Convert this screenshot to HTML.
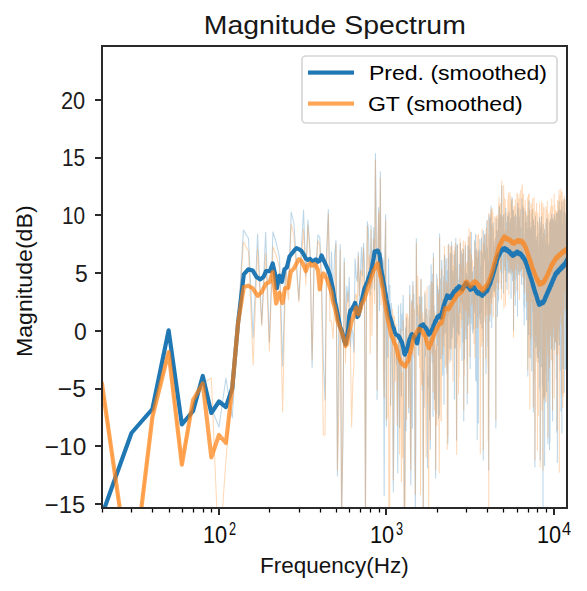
<!DOCTYPE html>
<html><head><meta charset="utf-8"><title>Magnitude Spectrum</title>
<style>html,body{margin:0;padding:0;background:#fff;overflow:hidden}svg{display:block}text{font-family:"Liberation Sans",sans-serif}</style></head>
<body><svg width="587" height="591" viewBox="0 0 587 591"><rect x="0" y="0" width="587" height="591" fill="#fff"/>
<defs><clipPath id="ax"><rect x="102" y="46" width="465" height="462"/></clipPath></defs>
<g clip-path="url(#ax)" fill="none" stroke-linejoin="round">
<path d="M102.00,515.00 L131.47,433.00 L152.39,409.00 L168.61,330.30 L181.86,424.50 L193.07,411.00 L202.77,376.00 L211.33,408.00 L218.99,427.00 L225.92,378.00 L232.25,418.00 L238.07,323.00 L243.45,230.00 L248.47,238.60 L253.16,338.00 L257.57,234.00 L261.72,324.00 L265.65,232.60 L269.38,342.00 L272.93,232.00 L276.31,243.00 L279.54,257.60 L282.63,366.00 L285.60,265.00 L288.45,290.00 L291.20,212.00 L293.84,223.00 L296.39,260.00 L298.85,300.00 L301.24,250.00 L303.55,210.00 L305.78,276.00 L307.95,220.00 L310.06,250.00 L312.11,367.50 L314.10,260.00 L316.04,266.00 L317.93,235.00 L319.77,237.00 L321.56,280.00 L323.31,359.00 L325.02,400.00 L326.69,248.59 L328.33,209.40 L329.93,294.43 L331.49,251.69 L333.02,301.45 L334.52,256.26 L335.99,240.40 L337.43,476.00 L338.84,317.37 L340.22,244.50 L341.58,520.00 L342.92,443.11 L344.23,258.10 L345.51,332.66 L346.78,285.97 L348.02,301.90 L349.24,277.22 L350.44,346.51 L351.62,327.70 L352.79,333.49 L353.93,352.11 L355.06,258.72 L356.17,276.44 L357.26,281.52 L358.34,252.00 L359.40,302.97 L360.45,272.60 L361.48,247.30 L362.49,275.72 L363.50,243.30 L364.49,263.91 L365.46,520.00 L366.42,297.73 L367.37,221.80 L368.31,228.55 L369.24,259.01 L370.15,295.07 L371.06,225.40 L371.95,288.36 L372.83,260.23 L373.70,227.81 L374.56,289.66 L375.41,153.40 L376.25,220.99 L377.08,399.50 L377.90,269.74 L378.71,207.50 L379.52,310.62 L380.31,171.70 L381.10,287.37 L381.88,266.04 L382.64,257.48 L383.41,263.28 L384.16,495.54 L384.91,251.63 L385.64,214.70 L386.37,426.00 L387.10,302.40 L387.81,357.17 L388.52,258.82 L389.22,308.64 L389.92,285.39 L390.61,405.36 L391.29,303.35 L391.97,320.51 L392.64,383.72 L393.30,492.00 L393.96,431.77 L394.61,325.37 L395.26,326.65 L395.90,342.42 L396.53,364.51 L397.16,359.14 L397.79,472.88 L398.41,305.73 L399.02,357.45 L399.63,427.38 L400.23,322.84 L400.83,303.57 L401.42,396.19 L402.01,314.00 L402.59,330.64 L403.17,295.18 L403.75,339.64 L404.32,515.00 L404.88,479.67 L405.45,327.69 L406.00,430.48 L406.56,317.77 L407.10,351.31 L407.65,350.61 L408.19,339.22 L408.73,412.76 L409.26,331.06 L409.79,285.36 L410.31,405.27 L410.83,485.00 L411.35,383.75 L411.86,300.04 L412.37,428.18 L412.88,281.22 L413.38,304.72 L413.88,294.16 L414.38,361.62 L414.87,464.17 L415.36,508.67 L415.85,438.72 L416.33,238.50 L416.81,332.32 L417.29,305.28 L417.76,315.95 L418.23,353.44 L418.70,355.71 L419.16,325.87 L419.62,296.00 L420.08,303.96 L420.54,323.20 L420.99,279.00 L421.44,328.14 L421.89,297.36 L422.33,390.83 L422.78,338.34 L423.22,520.00 L423.65,371.84 L424.09,407.37 L424.52,360.56 L424.95,293.59 L425.37,356.33 L425.80,318.23 L426.22,308.80 L426.64,314.51 L427.05,317.21 L427.47,468.02 L427.88,376.19 L428.29,387.21 L428.70,374.64 L429.10,285.47 L429.50,419.76 L429.90,317.56 L430.30,449.00 L430.70,319.00 L431.09,264.72 L431.48,284.88 L431.87,342.78 L432.26,362.56 L432.65,274.16 L433.03,416.28 L433.41,253.30 L433.79,349.94 L434.17,306.06 L434.55,399.37 L434.92,355.07 L435.29,350.05 L435.66,478.00 L436.03,366.31 L436.40,413.08 L436.76,274.17 L437.12,345.41 L437.48,285.53 L437.84,288.89 L438.20,335.19 L438.55,418.28 L438.91,289.79 L439.26,415.16 L439.61,233.70 L439.96,324.68 L440.31,279.03 L440.65,358.62 L441.00,358.85 L441.34,283.37 L441.68,260.32 L442.02,269.39 L442.35,317.43 L442.69,375.15 L443.02,322.31 L443.36,343.79 L443.69,276.28 L444.02,404.60 L444.35,258.43 L444.67,254.73 L445.00,261.38 L445.32,332.97 L445.64,291.63 L445.97,286.38 L446.28,258.83 L446.60,316.00 L446.92,373.62 L447.23,270.74 L447.55,345.32 L447.86,444.00 L448.17,258.10 L448.48,316.02 L448.79,244.05 L449.10,288.40 L449.41,289.28 L449.71,309.41 L450.01,348.67 L450.32,253.64 L450.62,260.46 L450.92,360.22 L451.21,326.99 L451.51,241.85 L451.81,255.86 L452.10,338.08 L452.40,316.96 L452.69,270.93 L452.98,327.94 L453.27,321.58 L453.56,275.12 L453.85,299.56 L454.13,254.67 L454.42,398.93 L454.70,255.34 L454.99,268.37 L455.27,247.37 L455.55,347.91 L455.83,238.22 L456.11,265.88 L456.39,270.97 L456.67,440.00 L456.94,319.63 L457.22,244.52 L457.49,244.54 L457.76,280.34 L458.03,332.28 L458.31,279.70 L458.58,334.58 L458.84,292.88 L459.11,335.11 L459.38,264.26 L459.64,276.44 L459.91,267.85 L460.17,312.51 L460.44,243.08 L460.70,266.95 L460.96,301.95 L461.22,251.10 L461.48,254.76 L461.74,256.95 L461.99,360.52 L462.25,254.00 L462.51,276.19 L462.76,303.30 L463.01,341.94 L463.27,265.31 L463.52,249.21 L463.77,420.90 L464.02,292.11 L464.27,341.68 L464.52,358.50 L464.77,331.84 L465.01,270.08 L465.26,245.45 L465.50,255.06 L465.75,302.02 L465.99,338.78 L466.23,311.17 L466.48,273.45 L466.72,310.85 L466.96,296.90 L467.20,403.92 L467.44,276.73 L467.67,308.92 L467.91,245.76 L468.15,262.16 L468.38,324.97 L468.62,297.06 L468.85,317.53 L469.09,236.68 L469.32,255.81 L469.55,259.61 L469.78,323.32 L470.01,249.28 L470.24,368.56 L470.47,262.85 L470.70,263.44 L470.93,323.39 L471.15,312.19 L471.38,232.39 L471.60,314.35 L471.83,278.05 L472.05,314.88 L472.28,329.82 L472.50,271.91 L472.72,333.28 L472.94,293.19 L473.16,327.63 L473.38,329.24 L473.60,298.40 L473.82,266.79 L474.04,283.13 L474.26,312.87 L474.47,307.20 L474.69,240.57 L474.90,269.34 L475.12,272.22 L475.33,299.74 L475.55,234.35 L475.76,380.50 L475.97,316.19 L476.18,301.41 L476.39,249.00 L476.60,337.27 L476.81,382.20 L477.02,259.58 L477.23,439.56 L477.44,257.97 L477.65,269.46 L477.85,269.87 L478.06,251.87 L478.27,423.03 L478.47,254.99 L478.68,297.10 L478.88,318.68 L479.08,250.01 L479.29,307.73 L479.49,314.95 L479.69,270.99 L479.89,239.43 L480.09,305.68 L480.29,323.54 L480.49,306.18 L480.69,266.28 L480.89,310.38 L481.09,312.65 L481.28,294.87 L481.48,237.94 L481.68,252.74 L481.87,327.92 L482.07,253.39 L482.26,254.42 L482.45,295.36 L482.65,302.81 L482.84,263.68 L483.03,298.57 L483.23,460.00 L483.42,230.69 L483.61,261.66 L483.80,245.47 L483.99,244.82 L484.18,259.46 L484.37,257.93 L484.56,250.59 L484.74,235.48 L484.93,247.76 L485.12,233.73 L485.31,238.09 L485.49,323.90 L485.68,252.40 L485.86,348.70 L486.05,373.69 L486.23,245.69 L486.42,305.07 L486.60,238.29 L486.78,220.66 L486.96,260.88 L487.15,246.45 L487.33,256.80 L487.51,248.50 L487.69,300.58 L487.87,324.65 L488.05,346.39 L488.23,303.55 L488.41,260.71 L488.59,414.75 L488.76,470.00 L488.94,214.76 L489.12,302.73 L489.30,287.32 L489.47,236.55 L489.65,238.56 L489.82,217.76 L490.00,321.02 L490.17,297.03 L490.35,298.20 L490.52,298.43 L490.69,218.51 L490.87,231.62 L491.04,206.10 L491.21,219.53 L491.38,253.19 L491.55,226.03 L491.72,327.54 L491.89,285.58 L492.06,294.96 L492.23,296.95 L492.40,280.37 L492.57,284.37 L492.74,278.74 L492.91,224.75 L493.08,237.53 L493.24,222.56 L493.41,240.67 L493.58,283.48 L493.74,290.77 L493.91,241.01 L494.07,245.30 L494.24,276.37 L494.40,291.58 L494.57,272.37 L494.73,277.94 L494.90,247.21 L495.06,279.24 L495.22,289.25 L495.38,268.43 L495.55,238.24 L495.71,265.32 L495.87,428.00 L496.03,269.75 L496.19,218.75 L496.35,241.87 L496.51,267.27 L496.67,282.18 L496.83,270.24 L496.99,242.47 L497.15,261.30 L497.31,230.51 L497.46,316.58 L497.62,260.55 L497.78,302.92 L497.94,287.35 L498.09,246.86 L498.25,263.47 L498.40,219.55 L498.56,300.44 L498.71,220.99 L498.87,250.42 L499.02,206.23 L499.18,237.94 L499.33,231.29 L499.49,207.38 L499.64,229.76 L499.79,256.44 L499.94,215.80 L500.10,224.01 L500.25,260.90 L500.40,214.58 L500.55,263.00 L500.70,271.78 L500.85,259.82 L501.00,267.04 L501.15,217.18 L501.30,288.60 L501.45,250.63 L501.60,217.65 L501.75,186.00 L501.90,253.16 L502.05,262.53 L502.19,259.49 L502.34,216.57 L502.49,251.56 L502.64,239.42 L502.78,273.55 L502.93,266.76 L503.08,236.56 L503.22,236.81 L503.37,293.01 L503.51,220.98 L503.66,214.86 L503.80,253.26 L503.95,263.54 L504.09,258.39 L504.23,266.37 L504.38,263.41 L504.52,266.70 L504.66,266.61 L504.81,231.87 L504.95,270.19 L505.09,269.38 L505.23,213.05 L505.37,252.19 L505.52,263.68 L505.66,269.59 L505.80,207.95 L505.94,281.84 L506.08,227.62 L506.22,270.91 L506.36,265.74 L506.50,255.83 L506.64,259.68 L506.78,222.88 L506.91,238.72 L507.05,289.56 L507.19,254.18 L507.33,239.36 L507.47,216.60 L507.60,273.22 L507.74,272.89 L507.88,229.69 L508.01,273.04 L508.15,267.19 L508.29,242.89 L508.42,215.14 L508.56,233.94 L508.69,225.97 L508.83,271.20 L508.96,215.94 L509.10,211.77 L509.23,254.13 L509.36,233.26 L509.50,258.31 L509.63,272.21 L509.76,255.79 L509.90,223.20 L510.03,258.88 L510.16,272.99 L510.30,257.39 L510.43,254.70 L510.56,272.99 L510.69,218.53 L510.82,260.64 L510.95,241.80 L511.08,298.16 L511.21,229.69 L511.35,262.06 L511.48,271.24 L511.61,199.71 L511.74,223.41 L511.86,263.24 L511.99,272.78 L512.12,197.54 L512.25,223.65 L512.38,261.95 L512.51,280.05 L512.64,281.00 L512.76,226.62 L512.89,259.11 L513.02,267.24 L513.15,246.98 L513.27,210.62 L513.40,265.06 L513.53,330.00 L513.65,261.55 L513.78,279.94 L513.91,266.71 L514.03,246.82 L514.16,275.57 L514.28,216.67 L514.41,269.76 L514.53,275.99 L514.66,260.05 L514.78,263.35 L514.90,293.25 L515.03,227.93 L515.15,245.32 L515.28,305.16 L515.40,214.50 L515.52,255.21 L515.64,279.65 L515.77,268.52 L515.89,238.83 L516.01,276.81 L516.13,253.43 L516.26,267.43 L516.38,269.71 L516.50,256.34 L516.62,237.83 L516.74,217.24 L516.86,254.88 L516.98,247.33 L517.10,220.65 L517.22,258.57 L517.34,207.22 L517.46,316.23 L517.58,290.57 L517.70,202.97 L517.82,203.88 L517.94,211.80 L518.06,273.78 L518.18,266.16 L518.30,253.50 L518.42,208.55 L518.53,271.26 L518.65,260.12 L518.77,260.86 L518.89,273.20 L519.00,217.10 L519.12,274.81 L519.24,260.25 L519.36,264.51 L519.47,240.59 L519.59,235.24 L519.70,231.77 L519.82,247.42 L519.94,222.27 L520.05,241.23 L520.17,209.30 L520.28,271.18 L520.40,261.18 L520.51,232.92 L520.63,267.50 L520.74,227.55 L520.86,232.64 L520.97,274.96 L521.08,257.07 L521.20,261.71 L521.31,270.26 L521.43,281.10 L521.54,284.48 L521.65,284.40 L521.76,258.45 L521.88,198.48 L521.99,256.74 L522.10,211.74 L522.22,217.00 L522.33,205.47 L522.44,268.36 L522.55,250.77 L522.66,249.93 L522.77,263.99 L522.89,233.60 L523.00,259.17 L523.11,210.13 L523.22,268.49 L523.33,207.76 L523.44,225.12 L523.55,274.81 L523.66,304.28 L523.77,210.42 L523.88,276.15 L523.99,312.31 L524.10,273.96 L524.21,325.04 L524.32,267.54 L524.42,277.38 L524.53,269.03 L524.64,297.07 L524.75,290.51 L524.86,307.27 L524.97,283.40 L525.07,234.56 L525.18,261.33 L525.29,223.10 L525.40,270.61 L525.50,272.55 L525.61,242.56 L525.72,210.97 L525.83,271.64 L525.93,222.09 L526.04,274.03 L526.15,231.90 L526.25,278.96 L526.36,241.10 L526.46,243.16 L526.57,319.71 L526.67,253.58 L526.78,291.35 L526.89,246.82 L526.99,222.12 L527.10,247.29 L527.20,215.92 L527.31,270.50 L527.41,304.18 L527.51,269.55 L527.62,228.72 L527.72,334.77 L527.83,376.00 L527.93,281.04 L528.03,245.80 L528.14,286.90 L528.24,277.95 L528.34,278.16 L528.45,276.07 L528.55,272.70 L528.65,214.93 L528.75,334.42 L528.86,202.57 L528.96,246.44 L529.06,200.81 L529.16,234.57 L529.27,244.61 L529.37,207.21 L529.47,302.99 L529.57,298.37 L529.67,240.67 L529.77,222.02 L529.87,320.67 L529.97,231.36 L530.08,313.28 L530.18,294.15 L530.28,357.90 L530.38,289.37 L530.48,250.25 L530.58,344.78 L530.68,311.46 L530.78,316.76 L530.88,239.64 L530.98,229.08 L531.08,227.30 L531.17,299.98 L531.27,279.26 L531.37,284.06 L531.47,336.92 L531.57,292.68 L531.67,280.84 L531.77,371.04 L531.87,214.00 L531.96,287.41 L532.06,300.81 L532.16,309.80 L532.26,209.39 L532.36,225.80 L532.45,312.12 L532.55,296.77 L532.65,217.90 L532.74,245.86 L532.84,308.39 L532.94,284.99 L533.03,301.05 L533.13,293.44 L533.23,289.04 L533.32,411.97 L533.42,321.33 L533.52,220.25 L533.61,258.72 L533.71,244.48 L533.80,341.57 L533.90,335.25 L534.00,301.74 L534.09,294.38 L534.19,225.42 L534.28,326.44 L534.38,337.60 L534.47,242.99 L534.57,240.76 L534.66,242.73 L534.75,259.24 L534.85,295.31 L534.94,467.00 L535.04,242.09 L535.13,252.84 L535.22,252.68 L535.32,306.40 L535.41,216.58 L535.51,267.19 L535.60,322.86 L535.69,242.70 L535.79,325.52 L535.88,347.38 L535.97,297.13 L536.06,260.26 L536.16,240.54 L536.25,335.15 L536.34,304.79 L536.43,326.85 L536.53,250.76 L536.62,345.59 L536.71,311.30 L536.80,236.85 L536.89,339.48 L536.99,259.61 L537.08,267.45 L537.17,259.14 L537.26,353.78 L537.35,355.28 L537.44,341.99 L537.53,313.36 L537.62,357.52 L537.71,247.34 L537.80,221.89 L537.90,314.09 L537.99,311.13 L538.08,241.75 L538.17,339.92 L538.26,345.54 L538.35,313.36 L538.44,260.19 L538.53,337.66 L538.62,332.97 L538.70,361.97 L538.79,251.71 L538.88,346.42 L538.97,338.15 L539.06,306.66 L539.15,264.43 L539.24,262.88 L539.33,233.58 L539.42,386.71 L539.50,309.38 L539.59,229.20 L539.68,217.48 L539.77,389.67 L539.86,220.91 L539.95,232.28 L540.03,335.95 L540.12,328.27 L540.21,460.00 L540.30,331.38 L540.38,239.05 L540.47,231.01 L540.56,227.73 L540.65,252.50 L540.73,305.28 L540.82,232.51 L540.91,261.54 L540.99,313.93 L541.08,278.44 L541.17,366.79 L541.25,253.42 L541.34,253.05 L541.42,233.75 L541.51,216.40 L541.60,346.13 L541.68,275.90 L541.77,333.04 L541.85,319.56 L541.94,331.10 L542.03,238.14 L542.11,315.11 L542.20,355.10 L542.28,319.47 L542.37,385.24 L542.45,249.04 L542.54,245.47 L542.62,335.40 L542.71,361.40 L542.79,388.13 L542.87,227.51 L542.96,520.00 L543.04,308.94 L543.13,224.29 L543.21,303.98 L543.30,251.00 L543.38,310.20 L543.46,344.14 L543.55,279.90 L543.63,378.46 L543.71,389.21 L543.80,366.68 L543.88,397.81 L543.96,235.71 L544.05,268.60 L544.13,272.34 L544.21,233.26 L544.30,239.29 L544.38,382.96 L544.46,354.02 L544.54,229.56 L544.63,465.54 L544.71,300.19 L544.79,312.68 L544.87,319.43 L544.96,258.76 L545.04,403.04 L545.12,271.99 L545.20,318.90 L545.28,243.72 L545.36,372.95 L545.45,270.17 L545.53,277.81 L545.61,327.13 L545.69,331.96 L545.77,309.34 L545.85,346.26 L545.93,223.07 L546.01,259.38 L546.09,300.44 L546.18,297.51 L546.26,270.21 L546.34,333.99 L546.42,219.87 L546.50,241.03 L546.58,391.84 L546.66,276.57 L546.74,349.08 L546.82,303.51 L546.90,218.32 L546.98,296.18 L547.06,344.34 L547.14,306.76 L547.22,218.31 L547.30,226.26 L547.38,230.58 L547.45,327.32 L547.53,245.25 L547.61,231.66 L547.69,261.81 L547.77,262.07 L547.85,400.30 L547.93,443.89 L548.01,343.00 L548.09,363.92 L548.16,243.13 L548.24,380.88 L548.32,274.09 L548.40,294.50 L548.48,303.81 L548.56,262.05 L548.63,264.88 L548.71,381.23 L548.79,330.95 L548.87,333.56 L548.95,316.03 L549.02,245.66 L549.10,307.62 L549.18,316.64 L549.26,271.27 L549.33,307.92 L549.41,318.15 L549.49,449.64 L549.56,325.66 L549.64,223.14 L549.72,226.81 L549.80,365.65 L549.87,332.15 L549.95,442.24 L550.02,221.39 L550.10,246.14 L550.18,245.81 L550.25,252.61 L550.33,249.56 L550.41,230.90 L550.48,336.22 L550.56,241.64 L550.63,219.22 L550.71,310.47 L550.79,240.46 L550.86,244.32 L550.94,289.79 L551.01,245.46 L551.09,253.43 L551.16,249.93 L551.24,339.98 L551.31,302.72 L551.39,348.77 L551.46,250.59 L551.54,260.52 L551.61,236.12 L551.69,214.46 L551.76,259.94 L551.84,233.23 L551.91,261.63 L551.99,310.30 L552.06,248.02 L552.14,348.87 L552.21,336.10 L552.29,255.95 L552.36,360.78 L552.43,218.52 L552.51,231.59 L552.58,421.00 L552.65,221.91 L552.73,219.07 L552.80,365.12 L552.88,303.86 L552.95,319.79 L553.02,223.64 L553.10,293.35 L553.17,301.49 L553.24,268.09 L553.32,237.76 L553.39,336.85 L553.46,225.63 L553.54,254.90 L553.61,331.41 L553.68,325.17 L553.75,257.57 L553.83,294.59 L553.90,221.20 L553.97,323.71 L554.04,283.29 L554.12,214.19 L554.19,216.50 L554.26,338.23 L554.33,349.38 L554.40,262.58 L554.48,279.44 L554.55,339.86 L554.62,281.77 L554.69,217.44 L554.76,217.28 L554.84,279.53 L554.91,283.74 L554.98,227.29 L555.05,342.26 L555.12,225.49 L555.19,225.76 L555.26,288.39 L555.34,320.81 L555.41,226.95 L555.48,340.79 L555.55,254.51 L555.62,295.37 L555.69,221.07 L555.76,225.48 L555.83,238.42 L555.90,250.84 L555.97,261.89 L556.04,235.74 L556.11,343.41 L556.18,280.02 L556.25,310.86 L556.32,378.63 L556.39,213.62 L556.46,322.91 L556.53,247.81 L556.60,310.49 L556.67,432.27 L556.74,253.25 L556.81,284.26 L556.88,238.66 L556.95,256.87 L557.02,292.39 L557.09,241.07 L557.16,238.21 L557.23,226.26 L557.30,420.00 L557.37,462.45 L557.44,241.51 L557.51,290.64 L557.58,213.59 L557.65,227.70 L557.71,257.11 L557.78,238.49 L557.85,227.76 L557.92,345.37 L557.99,334.07 L558.06,326.71 L558.13,318.79 L558.19,221.36 L558.26,211.31 L558.33,297.86 L558.40,302.41 L558.47,294.81 L558.54,331.05 L558.60,256.61 L558.67,321.96 L558.74,222.89 L558.81,301.98 L558.88,303.09 L558.94,280.22 L559.01,201.07 L559.08,276.27 L559.15,227.18 L559.21,259.20 L559.28,339.10 L559.35,229.82 L559.42,209.30 L559.48,344.64 L559.55,261.79 L559.62,285.64 L559.68,257.52 L559.75,305.25 L559.82,255.41 L559.88,211.55 L559.95,211.65 L560.02,337.48 L560.08,271.29 L560.15,324.88 L560.22,276.79 L560.28,370.25 L560.35,354.00 L560.42,305.09 L560.48,226.32 L560.55,227.02 L560.62,246.42 L560.68,236.96 L560.75,251.02 L560.81,209.95 L560.88,222.87 L560.95,330.59 L561.01,410.92 L561.08,238.07 L561.14,225.50 L561.21,294.48 L561.27,237.46 L561.34,293.24 L561.41,229.10 L561.47,209.95 L561.54,254.45 L561.60,237.02 L561.67,231.46 L561.73,249.08 L561.80,201.48 L561.86,432.89 L561.93,215.35 L561.99,289.15 L562.06,340.29 L562.12,207.11 L562.19,213.95 L562.25,300.68 L562.32,296.77 L562.38,279.18 L562.44,252.00 L562.51,297.11 L562.57,327.70 L562.64,224.48 L562.70,338.17 L562.77,328.61 L562.83,270.23 L562.89,307.87 L562.96,236.49 L563.02,238.29 L563.09,368.47 L563.15,255.88 L563.21,343.65 L563.28,286.01 L563.34,309.89 L563.41,237.63 L563.47,291.34 L563.53,220.94 L563.60,212.12 L563.66,288.16 L563.72,267.59 L563.79,215.45 L563.85,241.08 L563.91,267.19 L563.98,225.23 L564.04,245.10 L564.10,231.85 L564.17,199.02 L564.23,392.26 L564.29,244.15 L564.35,203.18 L564.42,256.26 L564.48,227.44 L564.54,304.39 L564.61,274.73 L564.67,313.38 L564.73,271.58 L564.79,218.59 L564.86,312.81 L564.92,275.95 L564.98,297.84 L565.04,227.81 L565.10,213.51 L565.17,247.33 L565.23,265.82 L565.29,248.13 L565.35,217.78 L565.41,283.49 L565.48,280.07 L565.54,369.34 L565.60,291.17 L565.66,313.38 L565.72,327.19 L565.79,225.96 L565.85,257.56 L565.91,349.31 L565.97,321.21 L566.03,318.74 L566.09,333.96 L566.15,235.93 L566.22,268.44 L566.28,225.32 L566.34,265.70 L566.40,255.99 L566.46,362.09 L566.52,223.75 L566.58,257.34 L566.64,340.88 L566.70,286.16 L566.76,281.48 L566.82,277.42 L566.89,294.36 L566.95,274.91 L567.01,276.35" stroke="#1f77b4" stroke-opacity="0.3" stroke-width="1.04"/>
<path d="M102.00,384.00 L131.47,590.00 L152.39,417.00 L168.61,352.00 L181.86,464.60 L193.07,400.00 L202.77,383.50 L211.33,378.00 L218.99,560.00 L225.92,460.00 L232.25,384.00 L238.07,323.00 L243.45,242.00 L248.47,251.50 L253.16,365.00 L257.57,249.00 L261.72,326.00 L265.65,253.00 L269.38,351.00 L272.93,247.00 L276.31,255.50 L279.54,268.00 L282.63,412.00 L285.60,270.00 L288.45,300.00 L291.20,224.00 L293.84,235.00 L296.39,270.00 L298.85,302.00 L301.24,260.00 L303.55,229.00 L305.78,285.00 L307.95,225.00 L310.06,255.00 L312.11,360.00 L314.10,265.00 L316.04,270.00 L317.93,241.00 L319.77,245.00 L321.56,290.00 L323.31,435.00 L325.02,435.00 L326.69,263.66 L328.33,214.00 L329.93,321.33 L331.49,320.85 L333.02,338.60 L334.52,307.91 L335.99,244.00 L337.43,470.00 L338.84,409.40 L340.22,250.00 L341.58,520.00 L342.92,424.09 L344.23,262.00 L345.51,363.08 L346.78,308.80 L348.02,292.26 L349.24,321.47 L350.44,350.53 L351.62,427.08 L352.79,382.68 L353.93,365.09 L355.06,296.36 L356.17,293.88 L357.26,307.70 L358.34,256.00 L359.40,295.37 L360.45,272.15 L361.48,270.21 L362.49,300.56 L363.50,248.00 L364.49,300.60 L365.46,520.00 L366.42,307.37 L367.37,226.00 L368.31,273.23 L369.24,255.08 L370.15,353.81 L371.06,230.00 L371.95,335.49 L372.83,282.11 L373.70,239.06 L374.56,303.77 L375.41,160.00 L376.25,280.07 L377.08,390.00 L377.90,239.00 L378.71,212.00 L379.52,277.74 L380.31,178.00 L381.10,304.66 L381.88,260.29 L382.64,260.03 L383.41,366.64 L384.16,397.78 L384.91,273.85 L385.64,220.00 L386.37,420.00 L387.10,416.84 L387.81,415.74 L388.52,305.98 L389.22,700.00 L389.92,429.23 L390.61,397.58 L391.29,352.07 L391.97,351.07 L392.64,308.79 L393.30,480.00 L393.96,316.08 L394.61,316.75 L395.26,380.92 L395.90,324.09 L396.53,364.30 L397.16,425.35 L397.79,372.80 L398.41,334.05 L399.02,351.05 L399.63,454.28 L400.23,328.88 L400.83,349.58 L401.42,481.73 L402.01,373.09 L402.59,457.81 L403.17,320.25 L403.75,469.43 L404.32,520.00 L404.88,565.58 L405.45,373.68 L406.00,313.77 L406.56,419.60 L407.10,313.56 L407.65,316.68 L408.19,319.23 L408.73,407.15 L409.26,339.34 L409.79,295.01 L410.31,445.55 L410.83,470.00 L411.35,302.35 L411.86,306.70 L412.37,353.41 L412.88,285.37 L413.38,310.45 L413.88,356.72 L414.38,309.61 L414.87,363.48 L415.36,494.52 L415.85,367.05 L416.33,243.00 L416.81,287.34 L417.29,315.13 L417.76,276.25 L418.23,330.78 L418.70,297.61 L419.16,315.77 L419.62,367.29 L420.08,305.07 L420.54,494.51 L420.99,279.56 L421.44,339.79 L421.89,384.63 L422.33,328.20 L422.78,312.65 L423.22,515.00 L423.65,414.60 L424.09,318.91 L424.52,342.26 L424.95,291.01 L425.37,318.89 L425.80,413.44 L426.22,457.04 L426.64,357.16 L427.05,287.30 L427.47,376.95 L427.88,400.80 L428.29,408.62 L428.70,519.15 L429.10,309.99 L429.50,371.37 L429.90,389.70 L430.30,440.00 L430.70,293.99 L431.09,281.48 L431.48,312.88 L431.87,353.51 L432.26,324.34 L432.65,282.79 L433.03,392.12 L433.41,258.00 L433.79,310.38 L434.17,361.40 L434.55,409.76 L434.92,311.67 L435.29,342.71 L435.66,470.00 L436.03,343.96 L436.40,348.85 L436.76,425.00 L437.12,394.30 L437.48,278.99 L437.84,303.34 L438.20,300.06 L438.55,293.86 L438.91,424.42 L439.26,472.50 L439.61,238.00 L439.96,348.24 L440.31,363.54 L440.65,398.87 L441.00,420.41 L441.34,421.05 L441.68,269.80 L442.02,330.36 L442.35,354.48 L442.69,299.12 L443.02,335.84 L443.36,329.09 L443.69,281.45 L444.02,346.64 L444.35,246.33 L444.67,282.23 L445.00,299.10 L445.32,367.33 L445.64,327.10 L445.97,365.04 L446.28,281.21 L446.60,294.27 L446.92,284.55 L447.23,449.10 L447.55,312.61 L447.86,436.00 L448.17,244.89 L448.48,358.63 L448.79,246.39 L449.10,325.08 L449.41,333.80 L449.71,362.63 L450.01,325.83 L450.32,307.33 L450.62,246.80 L450.92,309.36 L451.21,348.59 L451.51,249.83 L451.81,245.63 L452.10,276.79 L452.40,254.00 L452.69,344.81 L452.98,381.01 L453.27,266.29 L453.56,319.71 L453.85,323.81 L454.13,250.65 L454.42,347.71 L454.70,278.84 L454.99,299.68 L455.27,243.33 L455.55,282.47 L455.83,268.24 L456.11,370.54 L456.39,415.73 L456.67,454.60 L456.94,317.56 L457.22,245.41 L457.49,246.36 L457.76,336.08 L458.03,343.87 L458.31,313.79 L458.58,393.89 L458.84,316.71 L459.11,376.67 L459.38,307.31 L459.64,350.09 L459.91,238.89 L460.17,346.58 L460.44,243.57 L460.70,263.18 L460.96,327.08 L461.22,280.45 L461.48,282.74 L461.74,265.77 L461.99,319.81 L462.25,248.67 L462.51,290.81 L462.76,250.88 L463.01,306.44 L463.27,240.86 L463.52,260.12 L463.77,410.00 L464.02,269.32 L464.27,375.99 L464.52,307.74 L464.77,330.47 L465.01,276.02 L465.26,241.86 L465.50,261.33 L465.75,270.13 L465.99,311.00 L466.23,304.24 L466.48,288.57 L466.72,263.35 L466.96,283.53 L467.20,364.05 L467.44,262.01 L467.67,393.28 L467.91,275.08 L468.15,237.22 L468.38,291.97 L468.62,315.59 L468.85,269.85 L469.09,229.11 L469.32,251.06 L469.55,246.31 L469.78,356.44 L470.01,258.54 L470.24,269.17 L470.47,231.96 L470.70,286.25 L470.93,266.20 L471.15,261.75 L471.38,254.60 L471.60,273.40 L471.83,304.90 L472.05,291.83 L472.28,261.52 L472.50,260.29 L472.72,291.17 L472.94,283.63 L473.16,298.36 L473.38,317.36 L473.60,332.03 L473.82,286.16 L474.04,343.38 L474.26,332.14 L474.47,289.42 L474.69,242.38 L474.90,357.13 L475.12,279.46 L475.33,254.25 L475.55,251.00 L475.76,327.68 L475.97,283.63 L476.18,263.52 L476.39,257.33 L476.60,271.61 L476.81,271.95 L477.02,235.37 L477.23,316.50 L477.44,252.14 L477.65,264.96 L477.85,327.66 L478.06,271.09 L478.27,246.14 L478.47,234.25 L478.68,241.69 L478.88,293.03 L479.08,255.01 L479.29,299.39 L479.49,294.03 L479.69,314.57 L479.89,358.67 L480.09,311.24 L480.29,453.91 L480.49,353.12 L480.69,251.12 L480.89,299.14 L481.09,302.28 L481.28,316.62 L481.48,346.27 L481.68,247.10 L481.87,341.78 L482.07,229.34 L482.26,341.30 L482.45,251.73 L482.65,269.85 L482.84,261.87 L483.03,319.79 L483.23,450.00 L483.42,243.30 L483.61,322.68 L483.80,313.80 L483.99,257.14 L484.18,315.81 L484.37,255.40 L484.56,234.86 L484.74,294.06 L484.93,256.69 L485.12,320.71 L485.31,287.59 L485.49,251.80 L485.68,358.14 L485.86,293.08 L486.05,298.29 L486.23,227.91 L486.42,253.44 L486.60,240.15 L486.78,294.49 L486.96,314.82 L487.15,285.21 L487.33,306.24 L487.51,220.28 L487.69,250.56 L487.87,366.26 L488.05,234.62 L488.23,441.28 L488.41,295.64 L488.59,300.28 L488.76,520.00 L488.94,213.35 L489.12,315.76 L489.30,238.11 L489.47,246.13 L489.65,310.22 L489.82,252.88 L490.00,305.09 L490.17,314.67 L490.35,243.86 L490.52,213.85 L490.69,312.63 L490.87,233.25 L491.04,209.45 L491.21,215.30 L491.38,247.64 L491.55,245.44 L491.72,303.04 L491.89,223.06 L492.06,296.94 L492.23,208.62 L492.40,247.75 L492.57,285.64 L492.74,232.30 L492.91,212.23 L493.08,269.79 L493.24,316.68 L493.41,228.90 L493.58,269.20 L493.74,282.41 L493.91,237.37 L494.07,276.22 L494.24,291.52 L494.40,296.63 L494.57,277.06 L494.73,217.77 L494.90,216.95 L495.06,296.70 L495.22,274.11 L495.38,271.99 L495.55,290.90 L495.71,274.19 L495.87,420.00 L496.03,233.42 L496.19,216.14 L496.35,216.03 L496.51,287.93 L496.67,231.39 L496.83,262.99 L496.99,282.34 L497.15,267.21 L497.31,259.68 L497.46,281.56 L497.62,215.21 L497.78,258.91 L497.94,265.82 L498.09,251.53 L498.25,239.88 L498.40,220.52 L498.56,289.66 L498.71,203.03 L498.87,230.81 L499.02,197.14 L499.18,272.80 L499.33,282.96 L499.49,206.45 L499.64,224.68 L499.79,246.87 L499.94,204.72 L500.10,248.58 L500.25,269.55 L500.40,203.56 L500.55,261.40 L500.70,231.80 L500.85,243.58 L501.00,254.75 L501.15,244.17 L501.30,235.60 L501.45,299.35 L501.60,207.62 L501.75,181.00 L501.90,247.45 L502.05,247.06 L502.19,235.43 L502.34,218.09 L502.49,241.07 L502.64,235.88 L502.78,245.17 L502.93,250.78 L503.08,239.68 L503.22,214.71 L503.37,252.03 L503.51,214.35 L503.66,185.64 L503.80,197.67 L503.95,308.01 L504.09,225.58 L504.23,230.46 L504.38,249.51 L504.52,198.33 L504.66,242.93 L504.81,251.38 L504.95,231.18 L505.09,199.60 L505.23,245.02 L505.37,254.99 L505.52,305.76 L505.66,261.55 L505.80,232.05 L505.94,251.56 L506.08,230.88 L506.22,233.37 L506.36,238.36 L506.50,232.28 L506.64,250.10 L506.78,244.04 L506.91,239.11 L507.05,212.86 L507.19,257.02 L507.33,240.91 L507.47,240.98 L507.60,260.69 L507.74,243.09 L507.88,199.47 L508.01,229.85 L508.15,242.59 L508.29,201.84 L508.42,193.31 L508.56,218.14 L508.69,244.79 L508.83,294.45 L508.96,241.43 L509.10,263.11 L509.23,264.78 L509.36,204.04 L509.50,265.77 L509.63,248.96 L509.76,215.96 L509.90,192.45 L510.03,220.67 L510.16,208.88 L510.30,269.11 L510.43,203.87 L510.56,229.30 L510.69,196.26 L510.82,265.30 L510.95,251.11 L511.08,274.84 L511.21,222.73 L511.35,269.45 L511.48,223.67 L511.61,202.80 L511.74,231.25 L511.86,267.16 L511.99,255.50 L512.12,206.51 L512.25,199.35 L512.38,225.59 L512.51,271.75 L512.64,257.40 L512.76,244.65 L512.89,262.01 L513.02,256.80 L513.15,209.78 L513.27,263.68 L513.40,228.39 L513.53,337.00 L513.65,285.52 L513.78,279.70 L513.91,268.67 L514.03,205.96 L514.16,295.63 L514.28,206.21 L514.41,213.76 L514.53,245.44 L514.66,244.23 L514.78,269.01 L514.90,242.57 L515.03,254.98 L515.15,250.31 L515.28,215.66 L515.40,199.75 L515.52,211.09 L515.64,224.65 L515.77,260.85 L515.89,252.40 L516.01,268.87 L516.13,265.91 L516.26,243.54 L516.38,274.69 L516.50,246.97 L516.62,233.80 L516.74,225.52 L516.86,290.76 L516.98,193.35 L517.10,249.91 L517.22,244.02 L517.34,237.53 L517.46,252.09 L517.58,244.02 L517.70,194.18 L517.82,201.42 L517.94,229.90 L518.06,263.45 L518.18,251.15 L518.30,230.97 L518.42,204.37 L518.53,230.44 L518.65,210.20 L518.77,270.67 L518.89,222.54 L519.00,198.49 L519.12,257.58 L519.24,244.96 L519.36,247.10 L519.47,299.79 L519.59,239.08 L519.70,200.99 L519.82,241.74 L519.94,194.34 L520.05,230.61 L520.17,204.93 L520.28,271.04 L520.40,190.50 L520.51,257.77 L520.63,242.39 L520.74,238.30 L520.86,249.14 L520.97,250.19 L521.08,249.04 L521.20,247.56 L521.31,252.49 L521.43,263.36 L521.54,269.28 L521.65,248.73 L521.76,251.63 L521.88,187.05 L521.99,259.44 L522.10,197.57 L522.22,229.23 L522.33,184.63 L522.44,249.80 L522.55,277.00 L522.66,215.58 L522.77,245.17 L522.89,242.92 L523.00,194.55 L523.11,273.43 L523.22,250.42 L523.33,215.00 L523.44,194.35 L523.55,252.04 L523.66,276.34 L523.77,203.39 L523.88,259.81 L523.99,285.05 L524.10,207.81 L524.21,226.16 L524.32,246.35 L524.42,274.46 L524.53,261.51 L524.64,283.24 L524.75,292.44 L524.86,263.54 L524.97,238.86 L525.07,222.18 L525.18,231.78 L525.29,200.12 L525.40,248.34 L525.50,253.11 L525.61,251.17 L525.72,225.14 L525.83,240.16 L525.93,252.74 L526.04,252.16 L526.15,213.94 L526.25,232.23 L526.36,253.56 L526.46,259.78 L526.57,301.25 L526.67,261.39 L526.78,278.41 L526.89,274.97 L526.99,222.14 L527.10,273.88 L527.20,227.43 L527.31,256.46 L527.41,257.16 L527.51,218.69 L527.62,197.52 L527.72,261.47 L527.83,370.00 L527.93,265.84 L528.03,288.18 L528.14,235.00 L528.24,269.09 L528.34,262.71 L528.45,194.81 L528.55,212.39 L528.65,199.24 L528.75,241.07 L528.86,197.44 L528.96,357.15 L529.06,193.89 L529.16,281.73 L529.27,260.22 L529.37,219.45 L529.47,229.70 L529.57,293.09 L529.67,277.94 L529.77,275.68 L529.87,409.33 L529.97,210.83 L530.08,319.00 L530.18,300.10 L530.28,328.97 L530.38,273.99 L530.48,268.22 L530.58,297.11 L530.68,338.73 L530.78,295.40 L530.88,244.71 L530.98,203.77 L531.08,206.64 L531.17,229.27 L531.27,214.41 L531.37,274.56 L531.47,301.80 L531.57,239.51 L531.67,275.05 L531.77,247.67 L531.87,212.62 L531.96,290.35 L532.06,298.11 L532.16,222.82 L532.26,202.43 L532.36,203.00 L532.45,305.48 L532.55,232.22 L532.65,198.82 L532.74,290.83 L532.84,303.93 L532.94,335.96 L533.03,245.44 L533.13,223.38 L533.23,272.18 L533.32,406.73 L533.42,211.06 L533.52,208.86 L533.61,228.22 L533.71,211.73 L533.80,316.89 L533.90,315.41 L534.00,326.66 L534.09,218.79 L534.19,197.42 L534.28,278.63 L534.38,233.57 L534.47,213.29 L534.57,378.47 L534.66,227.31 L534.75,238.22 L534.85,222.24 L534.94,460.00 L535.04,278.53 L535.13,286.03 L535.22,430.20 L535.32,299.79 L535.41,211.89 L535.51,234.48 L535.60,335.20 L535.69,288.45 L535.79,317.05 L535.88,224.00 L535.97,300.31 L536.06,306.56 L536.16,291.40 L536.25,229.45 L536.34,282.11 L536.43,304.68 L536.53,203.35 L536.62,229.79 L536.71,361.51 L536.80,240.13 L536.89,325.28 L536.99,283.37 L537.08,279.84 L537.17,286.64 L537.26,315.79 L537.35,308.77 L537.44,450.35 L537.53,235.46 L537.62,318.82 L537.71,212.98 L537.80,245.96 L537.90,290.92 L537.99,224.04 L538.08,225.94 L538.17,312.43 L538.26,365.47 L538.35,415.76 L538.44,302.78 L538.53,308.86 L538.62,231.72 L538.70,317.13 L538.79,350.81 L538.88,285.25 L538.97,304.26 L539.06,301.54 L539.15,286.75 L539.24,230.88 L539.33,218.22 L539.42,342.68 L539.50,322.93 L539.59,308.32 L539.68,203.70 L539.77,330.38 L539.86,240.01 L539.95,239.80 L540.03,365.66 L540.12,252.32 L540.21,467.00 L540.30,260.93 L540.38,353.67 L540.47,293.40 L540.56,259.75 L540.65,255.99 L540.73,289.36 L540.82,222.65 L540.91,229.32 L540.99,247.36 L541.08,288.92 L541.17,295.02 L541.25,303.38 L541.34,261.29 L541.42,248.52 L541.51,201.64 L541.60,308.03 L541.68,218.96 L541.77,321.61 L541.85,287.10 L541.94,409.96 L542.03,241.65 L542.11,290.42 L542.20,262.25 L542.28,301.98 L542.37,336.48 L542.45,255.10 L542.54,213.13 L542.62,263.36 L542.71,232.06 L542.79,375.63 L542.87,203.85 L542.96,470.00 L543.04,322.82 L543.13,231.26 L543.21,212.47 L543.30,212.32 L543.38,257.03 L543.46,328.14 L543.55,303.77 L543.63,332.02 L543.71,355.46 L543.80,400.57 L543.88,218.43 L543.96,207.72 L544.05,252.23 L544.13,299.27 L544.21,227.99 L544.30,282.47 L544.38,257.90 L544.46,236.65 L544.54,287.64 L544.63,294.24 L544.71,397.24 L544.79,257.59 L544.87,341.79 L544.96,326.74 L545.04,394.78 L545.12,257.62 L545.20,331.57 L545.28,234.63 L545.36,331.54 L545.45,259.89 L545.53,311.84 L545.61,257.26 L545.69,306.94 L545.77,259.25 L545.85,291.43 L545.93,206.68 L546.01,284.22 L546.09,398.67 L546.18,401.75 L546.26,241.30 L546.34,304.96 L546.42,217.30 L546.50,231.93 L546.58,324.30 L546.66,240.41 L546.74,329.13 L546.82,283.24 L546.90,209.84 L546.98,246.90 L547.06,254.62 L547.14,311.25 L547.22,201.16 L547.30,220.47 L547.38,208.86 L547.45,311.41 L547.53,291.28 L547.61,355.32 L547.69,216.33 L547.77,283.50 L547.85,296.94 L547.93,218.31 L548.01,299.73 L548.09,437.45 L548.16,325.99 L548.24,342.99 L548.32,214.07 L548.40,333.69 L548.48,343.03 L548.56,300.47 L548.63,306.22 L548.71,220.00 L548.79,301.78 L548.87,256.35 L548.95,273.88 L549.02,288.39 L549.10,254.93 L549.18,222.39 L549.26,289.52 L549.33,244.10 L549.41,367.50 L549.49,315.57 L549.56,232.74 L549.64,234.85 L549.72,223.22 L549.80,234.80 L549.87,322.52 L549.95,298.31 L550.02,211.50 L550.10,335.70 L550.18,218.26 L550.25,288.61 L550.33,288.64 L550.41,234.63 L550.48,233.42 L550.56,284.01 L550.63,308.16 L550.71,274.49 L550.79,205.90 L550.86,329.87 L550.94,230.72 L551.01,224.31 L551.09,208.56 L551.16,218.09 L551.24,249.52 L551.31,359.74 L551.39,336.88 L551.46,242.17 L551.54,250.20 L551.61,246.91 L551.69,199.08 L551.76,269.40 L551.84,246.82 L551.91,254.94 L551.99,279.77 L552.06,244.63 L552.14,343.46 L552.21,321.54 L552.29,225.73 L552.36,394.34 L552.43,228.46 L552.51,205.97 L552.58,410.00 L552.65,229.69 L552.73,216.26 L552.80,309.14 L552.88,273.42 L552.95,279.56 L553.02,220.52 L553.10,326.80 L553.17,278.17 L553.24,273.70 L553.32,225.65 L553.39,272.08 L553.46,232.65 L553.54,324.49 L553.61,304.80 L553.68,238.01 L553.75,223.34 L553.83,268.11 L553.90,225.91 L553.97,233.25 L554.04,231.03 L554.12,194.38 L554.19,224.97 L554.26,398.30 L554.33,281.00 L554.40,231.89 L554.48,214.80 L554.55,268.56 L554.62,221.05 L554.69,204.51 L554.76,237.88 L554.84,219.09 L554.91,325.11 L554.98,301.34 L555.05,242.94 L555.12,247.12 L555.19,335.92 L555.26,272.42 L555.34,341.16 L555.41,223.97 L555.48,284.72 L555.55,210.55 L555.62,274.68 L555.69,214.15 L555.76,250.32 L555.83,285.55 L555.90,305.96 L555.97,263.82 L556.04,260.81 L556.11,325.93 L556.18,287.59 L556.25,347.52 L556.32,313.35 L556.39,211.54 L556.46,354.06 L556.53,260.07 L556.60,281.52 L556.67,308.78 L556.74,272.57 L556.81,232.72 L556.88,315.56 L556.95,221.41 L557.02,279.18 L557.09,272.69 L557.16,386.42 L557.23,347.11 L557.30,430.00 L557.37,314.61 L557.44,201.60 L557.51,272.12 L557.58,200.38 L557.65,211.81 L557.71,227.20 L557.78,228.41 L557.85,295.04 L557.92,287.03 L557.99,354.87 L558.06,215.28 L558.13,296.98 L558.19,264.18 L558.26,245.22 L558.33,294.39 L558.40,282.72 L558.47,266.48 L558.54,263.05 L558.60,312.64 L558.67,329.10 L558.74,204.60 L558.81,257.32 L558.88,232.13 L558.94,257.54 L559.01,189.94 L559.08,256.25 L559.15,202.68 L559.21,287.18 L559.28,472.25 L559.35,222.61 L559.42,222.84 L559.48,318.71 L559.55,300.28 L559.62,246.35 L559.68,232.33 L559.75,302.39 L559.82,268.75 L559.88,195.88 L559.95,216.33 L560.02,313.92 L560.08,282.39 L560.15,242.78 L560.22,241.20 L560.28,218.21 L560.35,282.85 L560.42,287.73 L560.48,237.56 L560.55,207.46 L560.62,287.82 L560.68,243.07 L560.75,268.37 L560.81,189.14 L560.88,189.92 L560.95,230.92 L561.01,322.00 L561.08,268.47 L561.14,269.21 L561.21,324.26 L561.27,265.57 L561.34,217.04 L561.41,244.48 L561.47,201.72 L561.54,217.61 L561.60,197.22 L561.67,218.00 L561.73,238.86 L561.80,192.44 L561.86,393.86 L561.93,306.96 L561.99,262.19 L562.06,205.58 L562.12,191.94 L562.19,195.87 L562.25,265.34 L562.32,258.08 L562.38,260.91 L562.44,294.39 L562.51,245.12 L562.57,265.21 L562.64,247.08 L562.70,261.06 L562.77,407.49 L562.83,209.36 L562.89,220.81 L562.96,240.61 L563.02,272.72 L563.09,315.26 L563.15,282.76 L563.21,201.14 L563.28,282.52 L563.34,338.40 L563.41,208.48 L563.47,199.93 L563.53,395.91 L563.60,274.87 L563.66,254.75 L563.72,312.87 L563.79,201.49 L563.85,304.77 L563.91,307.54 L563.98,221.27 L564.04,211.52 L564.10,247.32 L564.17,206.45 L564.23,275.44 L564.29,274.28 L564.35,196.28 L564.42,259.94 L564.48,209.82 L564.54,270.73 L564.61,265.73 L564.67,264.83 L564.73,213.60 L564.79,212.25 L564.86,270.60 L564.92,270.52 L564.98,291.57 L565.04,227.93 L565.10,199.63 L565.17,272.72 L565.23,212.77 L565.29,221.49 L565.35,255.10 L565.41,259.93 L565.48,309.44 L565.54,225.12 L565.60,231.32 L565.66,284.54 L565.72,223.36 L565.79,256.90 L565.85,232.83 L565.91,299.73 L565.97,233.76 L566.03,262.24 L566.09,248.85 L566.15,233.05 L566.22,226.81 L566.28,330.55 L566.34,311.54 L566.40,203.66 L566.46,250.98 L566.52,199.56 L566.58,296.99 L566.64,269.57 L566.70,268.53 L566.76,249.50 L566.82,295.68 L566.89,318.04 L566.95,292.05 L567.01,356.55" stroke="#ff7f0e" stroke-opacity="0.3" stroke-width="1.04"/>
<path d="M102.00,515.00 L131.47,433.00 L152.39,409.00 L168.61,330.30 L181.86,424.50 L193.07,411.00 L202.77,376.00 L211.33,413.00 L218.99,401.50 L225.92,407.00 L232.25,388.00 L238.07,323.00 L243.80,274.30 L248.20,269.30 L252.70,270.50 L256.50,276.90 L260.30,279.40 L263.50,276.90 L266.00,271.20 L269.80,271.20 L272.70,263.50 L274.90,273.10 L276.80,288.30 L279.30,275.60 L281.90,281.90 L284.40,269.30 L286.90,267.30 L289.50,256.60 L293.84,250.96 L296.39,248.04 L298.85,249.13 L301.24,250.78 L303.55,254.11 L305.78,258.66 L307.95,259.81 L310.06,258.93 L312.11,260.92 L314.10,260.57 L316.04,259.36 L317.93,261.81 L319.77,260.66 L321.56,255.36 L323.31,259.46 L325.02,263.20 L326.69,266.78 L328.33,270.36 L329.93,275.26 L331.49,282.46 L333.02,289.04 L334.52,299.46 L335.99,306.15 L337.43,313.20 L338.84,320.01 L340.22,327.12 L341.58,330.33 L342.92,334.95 L344.23,341.08 L345.51,344.30 L346.78,338.10 L348.02,330.17 L349.24,315.92 L350.44,310.22 L351.62,309.82 L352.79,307.42 L353.93,305.58 L355.06,302.81 L356.17,307.65 L357.26,317.06 L358.34,315.67 L359.40,311.82 L360.45,306.27 L361.48,302.09 L362.49,297.01 L363.50,292.54 L364.49,288.14 L365.46,286.36 L366.42,283.74 L367.37,281.87 L368.31,278.44 L369.24,276.38 L370.15,272.95 L371.06,271.12 L371.95,267.17 L372.83,262.17 L373.70,258.13 L374.56,251.46 L375.41,251.93 L376.25,250.89 L377.08,250.58 L377.90,250.62 L378.71,252.87 L379.52,254.08 L380.31,261.57 L381.10,268.50 L381.88,272.98 L382.64,276.57 L383.41,282.24 L384.16,285.24 L384.91,290.41 L385.64,294.05 L386.37,299.35 L387.10,302.89 L387.81,305.68 L388.52,310.68 L389.22,314.49 L389.92,317.05 L390.61,319.06 L391.29,320.88 L391.97,323.53 L392.64,326.67 L393.30,327.75 L393.96,328.83 L394.61,331.83 L395.26,333.11 L395.90,334.51 L396.53,334.69 L397.16,335.29 L397.79,335.50 L398.41,335.66 L399.02,337.69 L399.63,337.50 L400.23,339.02 L400.83,339.98 L401.42,342.11 L402.01,342.14 L402.59,345.14 L403.17,347.06 L403.75,349.75 L404.32,353.77 L404.88,354.51 L405.45,352.95 L406.00,351.99 L406.56,351.49 L407.10,349.42 L407.65,347.62 L408.19,345.32 L408.73,342.28 L409.26,340.15 L409.79,338.45 L410.31,337.94 L410.83,335.82 L411.35,336.47 L411.86,334.05 L412.37,334.87 L412.88,335.74 L413.38,335.29 L413.88,336.56 L414.38,338.03 L414.87,337.39 L415.36,339.61 L415.85,341.02 L416.33,341.61 L416.81,343.09 L417.29,343.28 L417.76,340.23 L418.23,337.43 L418.70,334.02 L419.16,331.27 L419.62,329.32 L420.08,326.69 L420.54,325.91 L420.99,325.44 L421.44,326.31 L421.89,325.05 L422.33,325.66 L422.78,324.48 L423.22,324.40 L423.65,325.70 L424.09,326.04 L424.52,326.36 L424.95,326.69 L425.37,328.11 L425.80,327.87 L426.22,329.40 L426.64,328.78 L427.05,330.34 L427.47,331.41 L427.88,333.09 L428.29,332.73 L428.70,334.62 L429.10,334.25 L429.50,333.83 L429.90,333.18 L430.30,333.31 L430.70,331.67 L431.09,331.31 L431.48,330.47 L431.87,329.72 L432.26,328.98 L432.65,329.17 L433.03,327.97 L433.41,325.59 L433.79,325.42 L434.17,324.15 L434.55,323.31 L434.92,322.39 L435.29,320.91 L435.66,321.43 L436.03,319.88 L436.40,319.52 L436.76,318.89 L437.12,317.43 L437.48,316.57 L437.84,316.56 L438.20,316.55 L438.55,316.55 L438.91,316.52 L439.26,315.52 L439.61,317.08 L439.96,317.00 L440.31,317.25 L440.65,316.73 L441.00,317.55 L441.34,314.66 L441.68,313.29 L442.02,311.94 L442.35,311.03 L442.69,309.71 L443.02,308.28 L443.36,307.66 L443.69,305.41 L444.02,305.27 L444.35,303.48 L444.67,303.37 L445.00,301.16 L445.32,300.66 L445.64,300.77 L445.97,299.04 L446.28,298.52 L446.60,297.24 L446.92,296.15 L447.23,295.33 L447.55,296.28 L447.86,295.57 L448.17,297.19 L448.48,297.72 L448.79,297.78 L449.10,296.58 L449.41,297.35 L449.71,297.56 L450.01,297.43 L450.32,298.08 L450.62,297.90 L450.92,296.55 L451.21,297.05 L451.51,296.45 L451.81,294.77 L452.10,295.44 L452.40,295.18 L452.69,293.47 L452.98,293.68 L453.27,293.33 L453.56,292.81 L453.85,291.42 L454.13,292.05 L454.42,291.71 L454.70,291.76 L454.99,291.44 L455.27,290.29 L455.55,290.72 L455.83,290.69 L456.11,290.45 L456.39,288.85 L456.67,288.33 L456.94,289.17 L457.22,288.11 L457.49,288.45 L457.76,288.86 L458.03,287.57 L458.31,287.06 L458.58,287.15 L458.84,287.24 L459.11,286.17 L459.38,286.88 L459.64,286.64 L459.91,287.80 L460.17,288.31 L460.44,287.70 L460.70,287.90 L460.96,288.40 L461.22,288.02 L461.48,288.28 L461.74,288.63 L461.99,289.06 L462.25,288.47 L462.51,289.30 L462.76,288.60 L463.01,287.72 L463.27,286.94 L463.52,287.80 L463.77,286.28 L464.02,285.91 L464.27,285.53 L464.52,285.07 L464.77,286.18 L465.01,284.67 L465.26,284.36 L465.50,284.94 L465.75,284.19 L465.99,283.05 L466.23,283.79 L466.48,284.91 L466.72,284.30 L466.96,285.22 L467.20,284.42 L467.44,285.87 L467.67,286.27 L467.91,286.66 L468.15,286.70 L468.38,286.45 L468.62,286.21 L468.85,287.33 L469.09,288.06 L469.32,287.34 L469.55,287.78 L469.78,288.56 L470.01,289.24 L470.24,289.81 L470.47,288.57 L470.70,288.50 L470.93,289.43 L471.15,288.97 L471.38,288.93 L471.60,289.25 L471.83,288.97 L472.05,288.63 L472.28,288.33 L472.50,287.47 L472.72,287.74 L472.94,286.75 L473.16,287.61 L473.38,287.43 L473.60,287.20 L473.82,287.05 L474.04,287.28 L474.26,287.70 L474.47,287.35 L474.69,289.15 L474.90,288.95 L475.12,289.02 L475.33,289.65 L475.55,290.30 L475.76,290.03 L475.97,291.17 L476.18,291.67 L476.39,291.05 L476.60,290.94 L476.81,292.38 L477.02,292.91 L477.23,291.50 L477.44,292.63 L477.65,292.95 L477.85,293.23 L478.06,291.91 L478.27,291.96 L478.47,293.69 L478.68,292.23 L478.88,292.45 L479.08,293.28 L479.29,293.15 L479.49,293.81 L479.69,292.91 L479.89,294.33 L480.09,293.18 L480.29,294.28 L480.49,293.13 L480.69,293.97 L480.89,293.28 L481.09,293.90 L481.28,294.00 L481.48,294.84 L481.68,294.47 L481.87,293.86 L482.07,295.66 L482.26,295.57 L482.45,295.72 L482.65,294.40 L482.84,294.47 L483.03,293.97 L483.23,293.60 L483.42,293.24 L483.61,293.90 L483.80,293.02 L483.99,292.93 L484.18,293.97 L484.37,293.10 L484.56,292.37 L484.74,293.06 L484.93,292.15 L485.12,292.43 L485.31,291.80 L485.49,292.04 L485.68,292.05 L485.86,291.70 L486.05,291.26 L486.23,291.79 L486.42,291.76 L486.60,290.32 L486.78,290.06 L486.96,289.76 L487.15,290.91 L487.33,290.44 L487.51,288.75 L487.69,289.68 L487.87,287.91 L488.05,288.04 L488.23,287.63 L488.41,287.98 L488.59,286.00 L488.76,286.10 L488.94,286.22 L489.12,284.86 L489.30,284.77 L489.47,284.79 L489.65,285.14 L489.82,284.54 L490.00,284.27 L490.17,283.76 L490.35,283.22 L490.52,282.92 L490.69,282.05 L490.87,281.59 L491.04,280.25 L491.21,279.45 L491.38,279.95 L491.55,278.33 L491.72,279.14 L491.89,278.00 L492.06,276.97 L492.23,277.51 L492.40,275.56 L492.57,275.66 L492.74,274.35 L492.91,275.38 L493.08,274.13 L493.24,274.00 L493.41,272.52 L493.58,272.91 L493.74,272.20 L493.91,271.55 L494.07,271.55 L494.24,270.03 L494.40,269.41 L494.57,269.33 L494.73,269.00 L494.90,267.52 L495.06,267.54 L495.22,266.13 L495.38,266.17 L495.55,265.99 L495.71,264.15 L495.87,264.77 L496.03,262.91 L496.19,264.04 L496.35,262.59 L496.51,261.91 L496.67,261.91 L496.83,260.99 L496.99,260.80 L497.15,259.07 L497.31,259.37 L497.46,258.80 L497.62,258.91 L497.78,256.75 L497.94,257.15 L498.09,257.16 L498.25,256.71 L498.40,255.54 L498.56,256.17 L498.71,255.20 L498.87,254.84 L499.02,255.77 L499.18,254.24 L499.33,254.40 L499.49,254.63 L499.64,254.25 L499.79,253.67 L499.94,253.82 L500.10,252.91 L500.25,252.89 L500.40,252.95 L500.55,252.39 L500.70,252.03 L500.85,251.31 L501.00,251.29 L501.15,250.70 L501.30,251.03 L501.45,250.15 L501.60,250.22 L501.75,250.65 L501.90,250.11 L502.05,249.72 L502.19,250.52 L502.34,249.63 L502.49,250.37 L502.64,250.18 L502.78,249.48 L502.93,249.87 L503.08,248.57 L503.22,249.12 L503.37,249.88 L503.51,249.29 L503.66,249.16 L503.80,249.27 L503.95,249.21 L504.09,248.95 L504.23,248.57 L504.38,248.06 L504.52,248.17 L504.66,248.17 L504.81,248.52 L504.95,249.64 L505.09,248.58 L505.23,248.85 L505.37,248.81 L505.52,249.29 L505.66,250.05 L505.80,250.04 L505.94,249.22 L506.08,249.12 L506.22,250.33 L506.36,249.73 L506.50,250.17 L506.64,249.17 L506.78,250.69 L506.91,249.79 L507.05,250.22 L507.19,249.78 L507.33,250.28 L507.47,251.11 L507.60,251.21 L507.74,250.66 L507.88,251.29 L508.01,250.83 L508.15,250.77 L508.29,251.18 L508.42,250.65 L508.56,250.96 L508.69,251.75 L508.83,251.96 L508.96,250.78 L509.10,252.12 L509.23,252.40 L509.36,251.87 L509.50,251.31 L509.63,252.56 L509.76,251.91 L509.90,252.76 L510.03,252.41 L510.16,253.01 L510.30,252.46 L510.43,252.99 L510.56,253.20 L510.69,253.53 L510.82,252.89 L510.95,254.39 L511.08,253.30 L511.21,253.47 L511.35,253.51 L511.48,253.30 L511.61,254.07 L511.74,254.82 L511.86,254.84 L511.99,254.05 L512.12,254.07 L512.25,254.53 L512.38,255.46 L512.51,255.09 L512.64,256.00 L512.76,255.65 L512.89,255.55 L513.02,255.73 L513.15,255.61 L513.27,254.79 L513.40,254.55 L513.53,254.79 L513.65,254.79 L513.78,254.08 L513.91,254.53 L514.03,254.80 L514.16,253.81 L514.28,253.73 L514.41,253.71 L514.53,253.82 L514.66,254.95 L514.78,253.18 L514.90,253.38 L515.03,253.26 L515.15,253.73 L515.28,252.82 L515.40,253.53 L515.52,252.92 L515.64,253.03 L515.77,253.88 L515.89,252.70 L516.01,253.40 L516.13,252.93 L516.26,252.87 L516.38,253.51 L516.50,252.24 L516.62,253.53 L516.74,253.39 L516.86,252.90 L516.98,251.71 L517.10,252.73 L517.22,252.53 L517.34,252.82 L517.46,251.88 L517.58,253.28 L517.70,253.23 L517.82,251.92 L517.94,252.35 L518.06,251.91 L518.18,253.42 L518.30,253.64 L518.42,253.84 L518.53,253.23 L518.65,253.40 L518.77,253.49 L518.89,253.37 L519.00,254.13 L519.12,253.58 L519.24,253.16 L519.36,253.55 L519.47,252.72 L519.59,254.06 L519.70,254.08 L519.82,253.66 L519.94,254.50 L520.05,254.40 L520.17,253.71 L520.28,253.31 L520.40,253.48 L520.51,253.64 L520.63,253.93 L520.74,254.25 L520.86,255.18 L520.97,254.08 L521.08,255.33 L521.20,255.09 L521.31,255.56 L521.43,254.90 L521.54,254.34 L521.65,255.90 L521.76,255.08 L521.88,255.05 L521.99,256.38 L522.10,256.33 L522.22,255.63 L522.33,255.89 L522.44,257.25 L522.55,256.19 L522.66,257.12 L522.77,256.24 L522.89,257.63 L523.00,256.52 L523.11,257.39 L523.22,256.68 L523.33,257.75 L523.44,258.44 L523.55,257.22 L523.66,257.71 L523.77,258.74 L523.88,258.61 L523.99,258.22 L524.10,258.94 L524.21,258.78 L524.32,259.66 L524.42,258.78 L524.53,259.77 L524.64,259.69 L524.75,260.03 L524.86,259.52 L524.97,260.40 L525.07,260.68 L525.18,260.44 L525.29,260.11 L525.40,262.11 L525.50,261.98 L525.61,261.38 L525.72,262.65 L525.83,262.15 L525.93,262.81 L526.04,263.83 L526.15,263.41 L526.25,263.44 L526.36,263.78 L526.46,263.69 L526.57,264.26 L526.67,264.66 L526.78,264.80 L526.89,264.91 L526.99,265.95 L527.10,265.81 L527.20,267.07 L527.31,267.71 L527.41,266.85 L527.51,267.70 L527.62,267.89 L527.72,267.42 L527.83,267.82 L527.93,269.50 L528.03,269.07 L528.14,269.97 L528.24,268.95 L528.34,270.21 L528.45,271.00 L528.55,271.32 L528.65,270.09 L528.75,271.34 L528.86,271.38 L528.96,272.40 L529.06,271.49 L529.16,272.15 L529.27,273.46 L529.37,273.16 L529.47,273.44 L529.57,274.69 L529.67,273.84 L529.77,273.65 L529.87,274.60 L529.97,274.48 L530.08,274.67 L530.18,275.86 L530.28,276.87 L530.38,276.51 L530.48,276.94 L530.58,276.67 L530.68,277.43 L530.78,278.07 L530.88,278.09 L530.98,278.78 L531.08,278.64 L531.17,278.32 L531.27,279.32 L531.37,279.46 L531.47,279.18 L531.57,280.31 L531.67,280.97 L531.77,280.08 L531.87,281.16 L531.96,281.84 L532.06,281.59 L532.16,281.69 L532.26,282.21 L532.36,282.86 L532.45,283.46 L532.55,283.57 L532.65,283.09 L532.74,284.71 L532.84,285.24 L532.94,284.10 L533.03,284.70 L533.13,284.90 L533.23,286.45 L533.32,286.90 L533.42,285.68 L533.52,286.53 L533.61,286.61 L533.71,287.44 L533.80,288.59 L533.90,287.39 L534.00,287.91 L534.09,288.81 L534.19,289.21 L534.28,289.94 L534.38,289.71 L534.47,289.51 L534.57,290.22 L534.66,291.68 L534.75,291.60 L534.85,290.78 L534.94,292.36 L535.04,291.77 L535.13,292.90 L535.22,291.80 L535.32,293.63 L535.41,292.64 L535.51,293.45 L535.60,294.10 L535.69,294.11 L535.79,293.77 L535.88,294.01 L535.97,294.55 L536.06,294.41 L536.16,294.99 L536.25,295.11 L536.34,296.00 L536.43,296.08 L536.53,296.77 L536.62,296.50 L536.71,296.33 L536.80,297.15 L536.89,298.19 L536.99,297.57 L537.08,298.11 L537.17,299.02 L537.26,298.67 L537.35,299.81 L537.44,300.14 L537.53,299.32 L537.62,300.36 L537.71,299.77 L537.80,299.84 L537.90,300.65 L537.99,301.22 L538.08,302.09 L538.17,300.94 L538.26,302.23 L538.35,302.08 L538.44,301.73 L538.53,303.52 L538.62,303.29 L538.70,302.54 L538.79,304.21 L538.88,303.03 L538.97,303.28 L539.06,303.77 L539.15,304.82 L539.24,303.16 L539.33,304.71 L539.42,304.13 L539.50,303.11 L539.59,303.97 L539.68,303.74 L539.77,303.89 L539.86,304.16 L539.95,304.02 L540.03,304.56 L540.12,303.01 L540.21,304.15 L540.30,303.39 L540.38,304.03 L540.47,304.18 L540.56,304.33 L540.65,302.98 L540.73,303.28 L540.82,304.13 L540.91,304.10 L540.99,303.03 L541.08,304.01 L541.17,303.02 L541.25,302.92 L541.34,303.57 L541.42,303.02 L541.51,302.95 L541.60,302.80 L541.68,302.85 L541.77,302.28 L541.85,302.10 L541.94,303.32 L542.03,302.94 L542.11,303.10 L542.20,303.29 L542.28,302.23 L542.37,302.20 L542.45,302.24 L542.54,302.25 L542.62,303.04 L542.71,302.31 L542.79,302.18 L542.87,302.71 L542.96,301.86 L543.04,301.68 L543.13,302.71 L543.21,302.78 L543.30,301.92 L543.38,302.50 L543.46,301.38 L543.55,301.92 L543.63,302.04 L543.71,301.26 L543.80,301.24 L543.88,301.52 L543.96,301.29 L544.05,300.31 L544.13,301.11 L544.21,299.79 L544.30,301.20 L544.38,299.63 L544.46,299.53 L544.54,299.24 L544.63,300.48 L544.71,299.02 L544.79,299.40 L544.87,299.90 L544.96,299.64 L545.04,297.82 L545.12,298.49 L545.20,298.44 L545.28,298.44 L545.36,297.59 L545.45,297.38 L545.53,296.61 L545.61,296.48 L545.69,297.22 L545.77,296.18 L545.85,296.22 L545.93,296.27 L546.01,295.61 L546.09,295.35 L546.18,296.77 L546.26,295.70 L546.34,295.10 L546.42,295.82 L546.50,294.38 L546.58,294.61 L546.66,295.72 L546.74,295.42 L546.82,294.76 L546.90,293.60 L546.98,293.82 L547.06,293.11 L547.14,293.27 L547.22,292.74 L547.30,292.74 L547.38,293.46 L547.45,292.32 L547.53,292.24 L547.61,293.40 L547.69,292.19 L547.77,292.01 L547.85,291.38 L547.93,292.47 L548.01,292.08 L548.09,291.66 L548.16,291.61 L548.24,290.49 L548.32,290.60 L548.40,291.00 L548.48,291.48 L548.56,291.06 L548.63,290.56 L548.71,290.16 L548.79,289.07 L548.87,290.47 L548.95,288.81 L549.02,288.74 L549.10,289.57 L549.18,289.61 L549.26,289.38 L549.33,288.60 L549.41,287.93 L549.49,287.49 L549.56,288.78 L549.64,288.83 L549.72,287.33 L549.80,288.27 L549.87,287.26 L549.95,286.92 L550.02,287.09 L550.10,286.02 L550.18,286.63 L550.25,286.01 L550.33,286.76 L550.41,286.20 L550.48,286.69 L550.56,286.56 L550.63,285.34 L550.71,285.10 L550.79,286.11 L550.86,285.15 L550.94,284.24 L551.01,283.98 L551.09,285.50 L551.16,284.59 L551.24,283.47 L551.31,284.11 L551.39,283.93 L551.46,283.63 L551.54,284.38 L551.61,284.21 L551.69,282.55 L551.76,282.42 L551.84,282.71 L551.91,283.30 L551.99,282.75 L552.06,282.77 L552.14,282.31 L552.21,281.48 L552.29,282.40 L552.36,280.78 L552.43,281.84 L552.51,280.76 L552.58,281.08 L552.65,281.82 L552.73,280.86 L552.80,279.82 L552.88,280.32 L552.95,280.56 L553.02,279.30 L553.10,279.48 L553.17,278.89 L553.24,279.66 L553.32,279.20 L553.39,279.25 L553.46,278.71 L553.54,279.18 L553.61,278.14 L553.68,279.29 L553.75,279.22 L553.83,278.21 L553.90,277.99 L553.97,278.53 L554.04,277.33 L554.12,278.09 L554.19,276.99 L554.26,277.60 L554.33,276.73 L554.40,277.05 L554.48,277.46 L554.55,275.73 L554.62,276.91 L554.69,276.27 L554.76,275.81 L554.84,275.59 L554.91,274.91 L554.98,275.09 L555.05,275.57 L555.12,274.46 L555.19,275.32 L555.26,275.68 L555.34,275.55 L555.41,275.22 L555.48,274.90 L555.55,273.67 L555.62,275.01 L555.69,273.55 L555.76,274.67 L555.83,274.61 L555.90,274.07 L555.97,273.81 L556.04,273.15 L556.11,273.65 L556.18,273.16 L556.25,272.78 L556.32,272.71 L556.39,273.84 L556.46,273.98 L556.53,272.50 L556.60,272.19 L556.67,272.56 L556.74,272.25 L556.81,272.27 L556.88,272.90 L556.95,272.54 L557.02,272.47 L557.09,271.99 L557.16,272.74 L557.23,271.99 L557.30,272.11 L557.37,272.14 L557.44,272.86 L557.51,271.60 L557.58,272.37 L557.65,271.56 L557.71,272.53 L557.78,271.56 L557.85,271.68 L557.92,272.27 L557.99,271.83 L558.06,270.71 L558.13,270.71 L558.19,272.17 L558.26,270.36 L558.33,270.78 L558.40,271.89 L558.47,270.11 L558.54,270.30 L558.60,270.32 L558.67,270.01 L558.74,270.63 L558.81,270.77 L558.88,270.20 L558.94,269.75 L559.01,270.94 L559.08,270.85 L559.15,270.34 L559.21,269.50 L559.28,270.15 L559.35,270.23 L559.42,269.79 L559.48,270.50 L559.55,269.58 L559.62,269.72 L559.68,268.93 L559.75,269.66 L559.82,269.95 L559.88,269.82 L559.95,268.89 L560.02,270.14 L560.08,269.57 L560.15,268.96 L560.22,268.87 L560.28,269.46 L560.35,268.29 L560.42,269.06 L560.48,269.12 L560.55,268.69 L560.62,269.26 L560.68,268.46 L560.75,268.39 L560.81,268.00 L560.88,269.07 L560.95,267.92 L561.01,268.54 L561.08,267.96 L561.14,268.84 L561.21,268.80 L561.27,267.08 L561.34,268.75 L561.41,267.98 L561.47,266.96 L561.54,267.66 L561.60,266.79 L561.67,267.62 L561.73,266.90 L561.80,267.17 L561.86,266.99 L561.93,267.46 L561.99,267.79 L562.06,267.93 L562.12,266.77 L562.19,267.14 L562.25,266.06 L562.32,266.65 L562.38,267.65 L562.44,266.07 L562.51,267.36 L562.57,266.90 L562.64,266.19 L562.70,267.00 L562.77,266.05 L562.83,267.08 L562.89,265.55 L562.96,265.56 L563.02,266.63 L563.09,266.02 L563.15,265.41 L563.21,266.01 L563.28,265.56 L563.34,265.95 L563.41,266.23 L563.47,266.37 L563.53,264.87 L563.60,265.77 L563.66,266.41 L563.72,265.40 L563.79,265.90 L563.85,264.63 L563.91,265.96 L563.98,265.37 L564.04,265.86 L564.10,265.61 L564.17,265.70 L564.23,264.17 L564.29,265.30 L564.35,264.30 L564.42,264.36 L564.48,264.40 L564.54,264.82 L564.61,264.82 L564.67,265.31 L564.73,263.59 L564.79,263.86 L564.86,264.10 L564.92,264.85 L564.98,264.31 L565.04,264.14 L565.10,264.47 L565.17,264.16 L565.23,263.39 L565.29,262.90 L565.35,263.46 L565.41,264.10 L565.48,263.47 L565.54,262.37 L565.60,262.95 L565.66,262.73 L565.72,262.97 L565.79,262.86 L565.85,263.40 L565.91,262.18 L565.97,262.19 L566.03,262.45 L566.09,262.82 L566.15,262.38 L566.22,261.84 L566.28,262.34 L566.34,261.63 L566.40,262.38 L566.46,261.04 L566.52,260.64 L566.58,261.79 L566.64,260.71 L566.70,261.59 L566.76,261.04 L566.82,260.75 L566.89,259.87 L566.95,261.02 L567.01,259.61 L567.07,261.16 L567.13,260.93 L567.19,259.83 L567.25,259.45 L567.31,260.74 L567.37,259.94 L567.43,259.24 L567.49,259.84 L567.55,259.32 L567.61,259.54 L567.67,259.89 L567.73,260.32 L567.79,260.05 L567.85,258.83 L567.91,259.33 L567.97,259.29 L568.03,260.11 L568.09,258.42 L568.15,259.12 L568.21,259.78 L568.27,258.78 L568.33,258.47 L568.39,258.93 L568.45,258.44 L568.51,259.46 L568.57,257.88 L568.62,258.03 L568.68,257.74 L568.74,258.81 L568.80,257.99 L568.86,259.01 L568.92,258.93 L568.98,258.94 L569.04,257.65 L569.10,257.12 L569.16,257.75 L569.21,258.72 L569.27,258.30 L569.33,256.96 L569.39,258.06 L569.45,258.38 L569.51,258.40 L569.57,257.88 L569.62,258.08 L569.68,257.97 L569.74,257.04 L569.80,256.51 L569.86,257.57 L569.92,256.44" stroke="#1f77b4" stroke-width="4.17" stroke-linecap="square"/>
<path d="M102.00,384.00 L131.47,590.00 L152.39,417.00 L168.61,352.00 L181.86,464.60 L193.07,400.00 L202.77,383.50 L211.33,457.30 L218.99,435.00 L225.92,443.00 L232.25,388.00 L238.07,323.00 L243.80,287.00 L248.20,285.70 L252.70,288.30 L257.80,295.90 L261.60,292.10 L266.00,283.80 L269.80,281.90 L272.70,271.80 L276.20,303.50 L279.30,292.70 L282.50,303.00 L285.00,288.30 L288.20,287.60 L290.70,271.80 L293.84,268.65 L296.39,263.79 L298.85,259.28 L301.24,260.72 L303.55,265.35 L305.78,271.08 L307.95,265.17 L310.06,263.49 L312.11,265.72 L314.10,264.08 L316.04,265.41 L317.93,270.02 L319.77,289.50 L321.56,277.76 L323.31,273.36 L325.02,276.37 L326.69,278.59 L328.33,283.02 L329.93,287.96 L331.49,292.52 L333.02,302.10 L334.52,306.48 L335.99,312.90 L337.43,320.66 L338.84,324.36 L340.22,328.26 L341.58,332.21 L342.92,335.88 L344.23,339.88 L345.51,346.02 L346.78,344.27 L348.02,337.44 L349.24,331.39 L350.44,326.47 L351.62,320.91 L352.79,318.27 L353.93,314.78 L355.06,310.70 L356.17,307.67 L357.26,309.53 L358.34,314.43 L359.40,311.80 L360.45,309.14 L361.48,304.68 L362.49,302.82 L363.50,300.76 L364.49,298.95 L365.46,295.55 L366.42,292.58 L367.37,289.10 L368.31,286.27 L369.24,283.40 L370.15,280.76 L371.06,278.30 L371.95,274.79 L372.83,272.94 L373.70,269.98 L374.56,268.96 L375.41,266.92 L376.25,265.11 L377.08,264.11 L377.90,263.21 L378.71,267.66 L379.52,271.57 L380.31,275.54 L381.10,278.78 L381.88,283.89 L382.64,287.09 L383.41,291.72 L384.16,297.69 L384.91,301.98 L385.64,306.79 L386.37,311.08 L387.10,314.99 L387.81,318.94 L388.52,322.54 L389.22,326.34 L389.92,328.90 L390.61,331.91 L391.29,335.22 L391.97,337.22 L392.64,338.04 L393.30,339.57 L393.96,341.95 L394.61,343.80 L395.26,344.65 L395.90,345.65 L396.53,348.52 L397.16,350.49 L397.79,353.47 L398.41,356.74 L399.02,357.90 L399.63,359.35 L400.23,360.71 L400.83,362.29 L401.42,362.71 L402.01,363.37 L402.59,364.73 L403.17,364.61 L403.75,364.53 L404.32,366.13 L404.88,365.74 L405.45,366.48 L406.00,364.06 L406.56,362.65 L407.10,362.48 L407.65,361.76 L408.19,361.19 L408.73,359.03 L409.26,355.87 L409.79,354.56 L410.31,352.10 L410.83,349.62 L411.35,348.31 L411.86,345.53 L412.37,343.13 L412.88,340.22 L413.38,337.84 L413.88,336.78 L414.38,335.41 L414.87,335.38 L415.36,335.36 L415.85,333.88 L416.33,332.94 L416.81,332.02 L417.29,331.19 L417.76,330.90 L418.23,329.23 L418.70,329.50 L419.16,328.67 L419.62,329.18 L420.08,329.40 L420.54,329.39 L420.99,330.57 L421.44,331.09 L421.89,330.39 L422.33,330.87 L422.78,331.85 L423.22,333.91 L423.65,333.58 L424.09,335.06 L424.52,334.93 L424.95,336.13 L425.37,336.31 L425.80,338.18 L426.22,339.13 L426.64,341.39 L427.05,342.64 L427.47,344.42 L427.88,344.72 L428.29,346.08 L428.70,348.19 L429.10,347.93 L429.50,346.44 L429.90,344.97 L430.30,344.16 L430.70,344.54 L431.09,342.33 L431.48,341.42 L431.87,340.79 L432.26,339.00 L432.65,337.99 L433.03,338.08 L433.41,336.48 L433.79,334.93 L434.17,335.12 L434.55,332.92 L434.92,332.64 L435.29,331.77 L435.66,329.95 L436.03,329.18 L436.40,329.70 L436.76,327.82 L437.12,327.21 L437.48,327.70 L437.84,326.41 L438.20,326.31 L438.55,325.87 L438.91,325.26 L439.26,323.78 L439.61,324.25 L439.96,323.46 L440.31,322.99 L440.65,323.15 L441.00,323.50 L441.34,323.45 L441.68,321.85 L442.02,320.58 L442.35,319.98 L442.69,318.18 L443.02,317.38 L443.36,315.53 L443.69,315.14 L444.02,313.43 L444.35,311.74 L444.67,309.99 L445.00,310.13 L445.32,308.17 L445.64,308.12 L445.97,307.99 L446.28,309.42 L446.60,309.16 L446.92,307.92 L447.23,307.87 L447.55,308.01 L447.86,308.91 L448.17,308.25 L448.48,309.02 L448.79,309.25 L449.10,308.32 L449.41,307.47 L449.71,307.65 L450.01,306.04 L450.32,306.32 L450.62,304.57 L450.92,304.45 L451.21,304.61 L451.51,304.28 L451.81,303.20 L452.10,302.73 L452.40,302.73 L452.69,302.19 L452.98,301.68 L453.27,301.47 L453.56,299.58 L453.85,299.56 L454.13,299.97 L454.42,299.84 L454.70,299.36 L454.99,298.24 L455.27,298.48 L455.55,297.71 L455.83,296.45 L456.11,297.38 L456.39,296.22 L456.67,295.11 L456.94,295.07 L457.22,294.72 L457.49,294.04 L457.76,295.28 L458.03,294.07 L458.31,294.07 L458.58,293.90 L458.84,294.30 L459.11,293.35 L459.38,292.75 L459.64,292.69 L459.91,292.23 L460.17,292.81 L460.44,292.79 L460.70,291.32 L460.96,290.83 L461.22,292.11 L461.48,291.49 L461.74,291.78 L461.99,290.48 L462.25,289.94 L462.51,290.60 L462.76,288.50 L463.01,289.20 L463.27,288.63 L463.52,288.13 L463.77,286.85 L464.02,285.84 L464.27,284.91 L464.52,285.12 L464.77,285.49 L465.01,283.73 L465.26,283.50 L465.50,282.22 L465.75,282.63 L465.99,282.33 L466.23,281.59 L466.48,282.25 L466.72,282.03 L466.96,282.30 L467.20,282.12 L467.44,283.01 L467.67,284.03 L467.91,284.12 L468.15,284.26 L468.38,283.94 L468.62,284.41 L468.85,284.82 L469.09,284.16 L469.32,285.67 L469.55,284.93 L469.78,285.32 L470.01,285.03 L470.24,285.96 L470.47,286.56 L470.70,285.68 L470.93,285.65 L471.15,285.54 L471.38,285.84 L471.60,285.44 L471.83,284.53 L472.05,283.99 L472.28,284.63 L472.50,283.84 L472.72,284.10 L472.94,282.66 L473.16,282.58 L473.38,283.08 L473.60,282.68 L473.82,281.95 L474.04,281.76 L474.26,281.49 L474.47,282.33 L474.69,281.19 L474.90,281.59 L475.12,282.56 L475.33,281.84 L475.55,282.74 L475.76,282.56 L475.97,283.40 L476.18,283.50 L476.39,282.76 L476.60,282.74 L476.81,282.63 L477.02,283.45 L477.23,283.60 L477.44,284.27 L477.65,284.42 L477.85,284.60 L478.06,284.63 L478.27,284.75 L478.47,284.70 L478.68,284.61 L478.88,285.85 L479.08,286.23 L479.29,285.39 L479.49,285.85 L479.69,286.66 L479.89,286.44 L480.09,287.13 L480.29,288.16 L480.49,287.40 L480.69,288.25 L480.89,288.44 L481.09,288.32 L481.28,288.55 L481.48,289.00 L481.68,288.53 L481.87,289.00 L482.07,290.50 L482.26,289.65 L482.45,290.15 L482.65,290.37 L482.84,290.77 L483.03,290.39 L483.23,289.69 L483.42,289.96 L483.61,288.90 L483.80,289.64 L483.99,288.08 L484.18,288.22 L484.37,288.00 L484.56,288.04 L484.74,287.33 L484.93,288.49 L485.12,287.27 L485.31,287.48 L485.49,286.39 L485.68,286.91 L485.86,286.55 L486.05,285.67 L486.23,286.30 L486.42,286.39 L486.60,286.42 L486.78,286.02 L486.96,285.83 L487.15,285.13 L487.33,284.86 L487.51,283.92 L487.69,283.59 L487.87,282.98 L488.05,283.05 L488.23,282.23 L488.41,282.05 L488.59,282.22 L488.76,281.37 L488.94,280.75 L489.12,280.24 L489.30,280.27 L489.47,279.92 L489.65,279.79 L489.82,278.34 L490.00,278.19 L490.17,278.01 L490.35,277.95 L490.52,277.05 L490.69,276.05 L490.87,276.43 L491.04,274.74 L491.21,274.78 L491.38,275.05 L491.55,274.25 L491.72,273.67 L491.89,271.85 L492.06,270.87 L492.23,270.40 L492.40,271.01 L492.57,270.74 L492.74,270.19 L492.91,268.64 L493.08,268.58 L493.24,268.11 L493.41,266.15 L493.58,266.43 L493.74,266.24 L493.91,264.97 L494.07,264.56 L494.24,263.13 L494.40,262.84 L494.57,262.19 L494.73,262.22 L494.90,262.42 L495.06,261.25 L495.22,260.55 L495.38,259.53 L495.55,258.55 L495.71,258.61 L495.87,258.04 L496.03,257.18 L496.19,256.12 L496.35,257.11 L496.51,255.97 L496.67,255.28 L496.83,254.72 L496.99,254.16 L497.15,253.58 L497.31,253.12 L497.46,251.84 L497.62,251.07 L497.78,251.25 L497.94,251.08 L498.09,249.83 L498.25,249.46 L498.40,248.02 L498.56,248.27 L498.71,247.33 L498.87,247.66 L499.02,246.01 L499.18,245.94 L499.33,246.66 L499.49,245.07 L499.64,245.24 L499.79,245.33 L499.94,244.99 L500.10,244.75 L500.25,245.23 L500.40,243.22 L500.55,244.14 L500.70,243.18 L500.85,242.83 L501.00,242.13 L501.15,242.17 L501.30,243.07 L501.45,242.79 L501.60,242.57 L501.75,241.48 L501.90,240.54 L502.05,240.10 L502.19,240.24 L502.34,240.29 L502.49,240.03 L502.64,240.42 L502.78,239.44 L502.93,239.69 L503.08,238.46 L503.22,239.46 L503.37,239.11 L503.51,237.75 L503.66,238.49 L503.80,237.68 L503.95,236.99 L504.09,236.86 L504.23,237.16 L504.38,236.49 L504.52,237.87 L504.66,237.03 L504.81,238.01 L504.95,236.91 L505.09,237.60 L505.23,237.06 L505.37,237.78 L505.52,238.21 L505.66,237.99 L505.80,237.37 L505.94,238.86 L506.08,238.86 L506.22,239.02 L506.36,238.22 L506.50,238.41 L506.64,237.84 L506.78,237.93 L506.91,238.82 L507.05,239.04 L507.19,238.58 L507.33,239.07 L507.47,239.15 L507.60,238.89 L507.74,238.81 L507.88,239.82 L508.01,238.51 L508.15,238.85 L508.29,239.95 L508.42,239.52 L508.56,239.50 L508.69,239.44 L508.83,239.14 L508.96,239.89 L509.10,239.79 L509.23,239.52 L509.36,239.96 L509.50,240.11 L509.63,240.38 L509.76,239.62 L509.90,239.53 L510.03,239.68 L510.16,240.43 L510.30,240.80 L510.43,241.33 L510.56,240.84 L510.69,241.65 L510.82,241.05 L510.95,240.51 L511.08,240.52 L511.21,241.49 L511.35,241.31 L511.48,240.96 L511.61,241.50 L511.74,242.42 L511.86,242.89 L511.99,241.32 L512.12,241.43 L512.25,241.57 L512.38,242.19 L512.51,242.34 L512.64,242.29 L512.76,243.30 L512.89,242.46 L513.02,242.72 L513.15,242.86 L513.27,243.08 L513.40,242.83 L513.53,243.70 L513.65,243.39 L513.78,243.49 L513.91,243.02 L514.03,242.70 L514.16,242.93 L514.28,243.37 L514.41,243.60 L514.53,243.17 L514.66,242.15 L514.78,242.38 L514.90,242.86 L515.03,243.03 L515.15,241.89 L515.28,241.69 L515.40,241.54 L515.52,242.42 L515.64,241.43 L515.77,242.21 L515.89,241.92 L516.01,242.27 L516.13,241.50 L516.26,241.75 L516.38,242.28 L516.50,240.84 L516.62,241.17 L516.74,241.37 L516.86,241.79 L516.98,240.93 L517.10,240.77 L517.22,241.23 L517.34,240.73 L517.46,240.72 L517.58,241.00 L517.70,240.39 L517.82,240.10 L517.94,240.91 L518.06,241.13 L518.18,240.82 L518.30,240.76 L518.42,241.09 L518.53,240.47 L518.65,240.29 L518.77,240.98 L518.89,240.47 L519.00,240.73 L519.12,240.88 L519.24,240.68 L519.36,241.15 L519.47,241.41 L519.59,240.52 L519.70,241.90 L519.82,241.46 L519.94,242.10 L520.05,241.83 L520.17,241.31 L520.28,241.60 L520.40,241.44 L520.51,240.60 L520.63,242.12 L520.74,240.94 L520.86,241.00 L520.97,240.54 L521.08,241.28 L521.20,240.93 L521.31,241.94 L521.43,241.51 L521.54,241.76 L521.65,241.02 L521.76,241.39 L521.88,241.35 L521.99,240.93 L522.10,241.44 L522.22,241.56 L522.33,241.90 L522.44,241.45 L522.55,241.68 L522.66,242.21 L522.77,242.99 L522.89,242.03 L523.00,243.24 L523.11,243.44 L523.22,242.41 L523.33,243.11 L523.44,242.77 L523.55,243.66 L523.66,244.49 L523.77,244.80 L523.88,243.50 L523.99,243.61 L524.10,245.15 L524.21,243.92 L524.32,245.56 L524.42,244.97 L524.53,245.63 L524.64,246.28 L524.75,245.21 L524.86,246.28 L524.97,246.23 L525.07,246.93 L525.18,246.70 L525.29,247.05 L525.40,247.63 L525.50,246.85 L525.61,247.18 L525.72,246.89 L525.83,248.54 L525.93,248.30 L526.04,249.48 L526.15,248.64 L526.25,249.93 L526.36,249.39 L526.46,250.44 L526.57,249.59 L526.67,249.70 L526.78,250.36 L526.89,251.68 L526.99,252.04 L527.10,251.10 L527.20,251.65 L527.31,252.59 L527.41,252.17 L527.51,253.55 L527.62,253.94 L527.72,253.08 L527.83,253.15 L527.93,254.00 L528.03,254.39 L528.14,254.57 L528.24,255.22 L528.34,256.27 L528.45,255.20 L528.55,256.80 L528.65,256.73 L528.75,256.62 L528.86,256.51 L528.96,256.57 L529.06,256.81 L529.16,256.94 L529.27,257.92 L529.37,258.29 L529.47,258.39 L529.57,259.65 L529.67,259.89 L529.77,258.89 L529.87,260.09 L529.97,259.66 L530.08,259.68 L530.18,261.73 L530.28,260.90 L530.38,261.20 L530.48,261.28 L530.58,262.77 L530.68,261.64 L530.78,262.85 L530.88,263.64 L530.98,263.85 L531.08,263.46 L531.17,264.14 L531.27,263.36 L531.37,265.19 L531.47,263.94 L531.57,265.28 L531.67,265.49 L531.77,264.93 L531.87,265.15 L531.96,265.84 L532.06,266.47 L532.16,267.31 L532.26,267.25 L532.36,268.16 L532.45,268.23 L532.55,268.54 L532.65,267.95 L532.74,269.06 L532.84,269.26 L532.94,269.75 L533.03,269.93 L533.13,269.89 L533.23,269.62 L533.32,269.81 L533.42,270.48 L533.52,270.12 L533.61,271.04 L533.71,270.51 L533.80,270.87 L533.90,272.62 L534.00,271.72 L534.09,272.94 L534.19,273.08 L534.28,272.84 L534.38,273.74 L534.47,273.58 L534.57,272.66 L534.66,273.38 L534.75,274.15 L534.85,273.92 L534.94,274.04 L535.04,274.43 L535.13,274.64 L535.22,275.51 L535.32,275.85 L535.41,275.95 L535.51,276.07 L535.60,276.49 L535.69,275.98 L535.79,277.07 L535.88,276.44 L535.97,277.55 L536.06,277.57 L536.16,277.47 L536.25,276.99 L536.34,278.16 L536.43,277.45 L536.53,277.85 L536.62,278.92 L536.71,278.67 L536.80,278.35 L536.89,279.74 L536.99,278.38 L537.08,279.81 L537.17,280.20 L537.26,279.11 L537.35,280.64 L537.44,279.39 L537.53,279.72 L537.62,280.41 L537.71,281.43 L537.80,280.46 L537.90,280.01 L537.99,281.25 L538.08,280.90 L538.17,282.20 L538.26,281.07 L538.35,282.08 L538.44,281.05 L538.53,282.38 L538.62,281.78 L538.70,283.16 L538.79,282.15 L538.88,282.81 L538.97,283.50 L539.06,282.45 L539.15,283.00 L539.24,284.14 L539.33,284.17 L539.42,284.41 L539.50,284.49 L539.59,284.28 L539.68,283.77 L539.77,284.77 L539.86,283.63 L539.95,284.44 L540.03,284.04 L540.12,283.62 L540.21,282.99 L540.30,282.88 L540.38,283.24 L540.47,284.14 L540.56,283.96 L540.65,282.95 L540.73,283.54 L540.82,283.05 L540.91,282.92 L540.99,283.82 L541.08,283.36 L541.17,283.70 L541.25,283.31 L541.34,284.06 L541.42,282.43 L541.51,283.30 L541.60,282.52 L541.68,282.42 L541.77,283.53 L541.85,282.36 L541.94,283.78 L542.03,282.49 L542.11,282.47 L542.20,283.21 L542.28,282.54 L542.37,283.35 L542.45,282.91 L542.54,283.64 L542.62,283.27 L542.71,282.94 L542.79,282.97 L542.87,283.53 L542.96,282.68 L543.04,283.05 L543.13,283.18 L543.21,282.91 L543.30,282.84 L543.38,282.89 L543.46,282.20 L543.55,281.87 L543.63,282.20 L543.71,282.23 L543.80,281.73 L543.88,282.06 L543.96,282.03 L544.05,282.13 L544.13,281.75 L544.21,282.02 L544.30,281.47 L544.38,280.68 L544.46,280.95 L544.54,279.96 L544.63,280.78 L544.71,281.26 L544.79,280.63 L544.87,279.18 L544.96,280.00 L545.04,279.09 L545.12,280.02 L545.20,278.74 L545.28,279.69 L545.36,278.30 L545.45,279.41 L545.53,279.10 L545.61,279.14 L545.69,279.07 L545.77,278.48 L545.85,278.97 L545.93,278.46 L546.01,277.81 L546.09,277.66 L546.18,277.45 L546.26,277.32 L546.34,277.87 L546.42,276.42 L546.50,276.69 L546.58,277.59 L546.66,276.56 L546.74,277.07 L546.82,275.96 L546.90,276.98 L546.98,275.46 L547.06,276.28 L547.14,275.20 L547.22,275.92 L547.30,275.79 L547.38,274.80 L547.45,274.85 L547.53,274.30 L547.61,274.59 L547.69,274.07 L547.77,273.88 L547.85,273.91 L547.93,273.56 L548.01,274.74 L548.09,274.24 L548.16,272.78 L548.24,272.80 L548.32,274.01 L548.40,273.17 L548.48,272.78 L548.56,271.89 L548.63,271.72 L548.71,272.18 L548.79,271.96 L548.87,271.72 L548.95,270.95 L549.02,271.20 L549.10,271.80 L549.18,271.24 L549.26,270.80 L549.33,271.43 L549.41,270.01 L549.49,270.84 L549.56,269.89 L549.64,270.61 L549.72,269.67 L549.80,269.07 L549.87,269.60 L549.95,268.77 L550.02,269.73 L550.10,269.85 L550.18,268.97 L550.25,269.25 L550.33,268.60 L550.41,269.08 L550.48,267.72 L550.56,267.45 L550.63,267.08 L550.71,267.33 L550.79,267.44 L550.86,267.12 L550.94,266.44 L551.01,267.02 L551.09,266.01 L551.16,266.47 L551.24,267.00 L551.31,266.38 L551.39,266.28 L551.46,265.86 L551.54,265.68 L551.61,264.84 L551.69,264.63 L551.76,265.07 L551.84,265.76 L551.91,265.14 L551.99,265.18 L552.06,265.46 L552.14,265.31 L552.21,264.97 L552.29,264.40 L552.36,263.48 L552.43,263.98 L552.51,263.76 L552.58,264.04 L552.65,264.28 L552.73,264.36 L552.80,264.09 L552.88,263.70 L552.95,263.44 L553.02,263.12 L553.10,262.22 L553.17,262.64 L553.24,262.75 L553.32,262.51 L553.39,263.42 L553.46,262.75 L553.54,263.06 L553.61,262.62 L553.68,262.13 L553.75,262.13 L553.83,261.97 L553.90,261.61 L553.97,261.03 L554.04,260.67 L554.12,260.77 L554.19,260.79 L554.26,261.97 L554.33,260.80 L554.40,260.58 L554.48,260.28 L554.55,261.20 L554.62,260.56 L554.69,260.17 L554.76,260.42 L554.84,259.84 L554.91,260.18 L554.98,260.60 L555.05,259.41 L555.12,260.40 L555.19,259.50 L555.26,258.75 L555.34,258.48 L555.41,258.74 L555.48,258.88 L555.55,259.67 L555.62,258.79 L555.69,259.27 L555.76,258.79 L555.83,258.74 L555.90,257.82 L555.97,258.67 L556.04,259.02 L556.11,258.88 L556.18,258.83 L556.25,258.65 L556.32,257.53 L556.39,258.17 L556.46,258.04 L556.53,258.12 L556.60,257.40 L556.67,257.67 L556.74,257.98 L556.81,257.78 L556.88,257.47 L556.95,257.30 L557.02,256.80 L557.09,256.73 L557.16,258.17 L557.23,257.62 L557.30,256.61 L557.37,257.81 L557.44,257.79 L557.51,257.44 L557.58,256.99 L557.65,257.74 L557.71,256.16 L557.78,257.03 L557.85,256.94 L557.92,256.04 L557.99,256.16 L558.06,255.93 L558.13,256.29 L558.19,256.74 L558.26,255.50 L558.33,255.63 L558.40,256.53 L558.47,256.84 L558.54,256.46 L558.60,256.01 L558.67,256.47 L558.74,255.66 L558.81,256.38 L558.88,255.72 L558.94,256.22 L559.01,256.15 L559.08,255.06 L559.15,254.58 L559.21,255.56 L559.28,255.62 L559.35,255.60 L559.42,254.81 L559.48,254.26 L559.55,255.27 L559.62,255.36 L559.68,254.13 L559.75,254.30 L559.82,254.45 L559.88,254.04 L559.95,254.90 L560.02,255.25 L560.08,255.24 L560.15,255.03 L560.22,254.43 L560.28,254.12 L560.35,254.69 L560.42,253.85 L560.48,253.88 L560.55,253.90 L560.62,253.88 L560.68,254.68 L560.75,253.89 L560.81,253.74 L560.88,253.38 L560.95,253.74 L561.01,253.82 L561.08,253.70 L561.14,253.91 L561.21,253.54 L561.27,253.14 L561.34,253.72 L561.41,253.43 L561.47,253.81 L561.54,252.89 L561.60,252.91 L561.67,253.18 L561.73,253.24 L561.80,253.05 L561.86,253.13 L561.93,252.69 L561.99,252.12 L562.06,252.06 L562.12,252.43 L562.19,252.03 L562.25,252.23 L562.32,252.34 L562.38,252.90 L562.44,253.52 L562.51,252.92 L562.57,252.29 L562.64,252.99 L562.70,252.04 L562.77,252.96 L562.83,252.26 L562.89,252.09 L562.96,251.38 L563.02,251.70 L563.09,252.36 L563.15,252.94 L563.21,252.17 L563.28,252.40 L563.34,251.85 L563.41,252.02 L563.47,252.35 L563.53,250.96 L563.60,251.58 L563.66,251.92 L563.72,251.45 L563.79,251.46 L563.85,250.73 L563.91,251.45 L563.98,251.02 L564.04,250.91 L564.10,252.25 L564.17,250.52 L564.23,251.01 L564.29,251.26 L564.35,250.46 L564.42,251.04 L564.48,251.57 L564.54,250.61 L564.61,250.80 L564.67,251.31 L564.73,251.15 L564.79,250.17 L564.86,250.52 L564.92,251.02 L564.98,251.23 L565.04,250.10 L565.10,250.41 L565.17,250.96 L565.23,249.79 L565.29,249.99 L565.35,249.63 L565.41,251.15 L565.48,249.80 L565.54,250.49 L565.60,249.69 L565.66,249.98 L565.72,250.76 L565.79,249.82 L565.85,250.69 L565.91,249.98 L565.97,250.90 L566.03,249.37 L566.09,250.41 L566.15,249.91 L566.22,249.30 L566.28,249.75 L566.34,249.97 L566.40,249.85 L566.46,249.50 L566.52,249.51 L566.58,248.69 L566.64,249.55 L566.70,249.88 L566.76,249.08 L566.82,248.58 L566.89,249.24 L566.95,249.82 L567.01,249.78 L567.07,248.61 L567.13,248.82 L567.19,248.92 L567.25,248.50 L567.31,248.52 L567.37,249.42 L567.43,248.94 L567.49,248.24 L567.55,248.14 L567.61,249.04 L567.67,249.38 L567.73,249.11 L567.79,247.94 L567.85,249.41 L567.91,248.67 L567.97,247.95 L568.03,248.41 L568.09,248.28 L568.15,249.24 L568.21,249.19 L568.27,248.79 L568.33,249.03 L568.39,248.67 L568.45,248.70 L568.51,247.90 L568.57,248.15 L568.62,248.03 L568.68,247.55 L568.74,247.13 L568.80,248.21 L568.86,248.37 L568.92,248.65 L568.98,247.39 L569.04,247.45 L569.10,247.53 L569.16,247.72 L569.21,248.35 L569.27,248.37 L569.33,247.96 L569.39,247.89 L569.45,247.11 L569.51,247.82 L569.57,247.25 L569.62,247.00 L569.68,248.04 L569.74,247.48 L569.80,247.82 L569.86,247.32 L569.92,247.31" stroke="#ff7f0e" stroke-opacity="0.7" stroke-width="4.17" stroke-linecap="square"/>
</g>
<g fill="#2a2a2a">
<rect x="101" y="45" width="467" height="2"/>
<rect x="101" y="507" width="467" height="2"/>
<rect x="101" y="45" width="2" height="464"/>
<rect x="566" y="45" width="2" height="464"/>
<rect x="95" y="99" width="6" height="2"/>
<rect x="95" y="157" width="6" height="2"/>
<rect x="95" y="214" width="6" height="2"/>
<rect x="95" y="272" width="6" height="2"/>
<rect x="95" y="330" width="6" height="2"/>
<rect x="95" y="388" width="6" height="2"/>
<rect x="95" y="445" width="6" height="2"/>
<rect x="95" y="503" width="6" height="2"/>
<rect x="218" y="509" width="2" height="6"/>
<rect x="385" y="509" width="2" height="6"/>
<rect x="553" y="509" width="2" height="6"/>
</g>
<g fill="#000">
<rect x="101.875" y="509" width="1.25" height="3.5"/>
<rect x="130.875" y="509" width="1.25" height="3.5"/>
<rect x="151.875" y="509" width="1.25" height="3.5"/>
<rect x="168.875" y="509" width="1.25" height="3.5"/>
<rect x="181.875" y="509" width="1.25" height="3.5"/>
<rect x="192.875" y="509" width="1.25" height="3.5"/>
<rect x="202.875" y="509" width="1.25" height="3.5"/>
<rect x="210.875" y="509" width="1.25" height="3.5"/>
<rect x="268.875" y="509" width="1.25" height="3.5"/>
<rect x="298.875" y="509" width="1.25" height="3.5"/>
<rect x="319.875" y="509" width="1.25" height="3.5"/>
<rect x="335.875" y="509" width="1.25" height="3.5"/>
<rect x="348.875" y="509" width="1.25" height="3.5"/>
<rect x="359.875" y="509" width="1.25" height="3.5"/>
<rect x="369.875" y="509" width="1.25" height="3.5"/>
<rect x="378.875" y="509" width="1.25" height="3.5"/>
<rect x="436.875" y="509" width="1.25" height="3.5"/>
<rect x="465.875" y="509" width="1.25" height="3.5"/>
<rect x="486.875" y="509" width="1.25" height="3.5"/>
<rect x="502.875" y="509" width="1.25" height="3.5"/>
<rect x="516.875" y="509" width="1.25" height="3.5"/>
<rect x="527.875" y="509" width="1.25" height="3.5"/>
<rect x="536.875" y="509" width="1.25" height="3.5"/>
<rect x="545.875" y="509" width="1.25" height="3.5"/>
</g>
<g font-family="Liberation Sans">
<text transform="matrix(1.1366,0,0,1.0000,203.727,34.000)" font-size="25.0" fill="#171717">Magnitude Spectrum</text>
<text transform="matrix(1.0809,0,0,1.0526,259.919,572.789)" font-size="20.83" fill="#131313">Frequency(Hz)</text>
<text transform="matrix(1.0455,0,0,1.1429,60.955,109.000)" font-size="20.83" fill="#1c1c1c">20</text>
<text transform="matrix(1.0000,0,0,1.1429,62.000,166.000)" font-size="20.83" fill="#1c1c1c">15</text>
<text transform="matrix(1.0000,0,0,1.1429,62.000,224.000)" font-size="20.83" fill="#1c1c1c">10</text>
<text transform="matrix(1.1000,0,0,1.1429,74.900,282.000)" font-size="20.83" fill="#1c1c1c">5</text>
<text transform="matrix(1.1000,0,0,1.1429,73.900,340.000)" font-size="20.83" fill="#1c1c1c">0</text>
<text transform="matrix(1.1818,0,0,1.1429,57.818,397.000)" font-size="20.83" fill="#1c1c1c">−5</text>
<text transform="matrix(1.1765,0,0,1.1429,44.824,455.000)" font-size="20.83" fill="#1c1c1c">−10</text>
<text transform="matrix(1.1471,0,0,1.1429,44.853,513.000)" font-size="20.83" fill="#1c1c1c">−15</text>
<text transform="translate(31.789,357.111) rotate(-90) scale(1.1111,1.0526)" font-size="20.83" fill="#121212">Magnitude(dB)</text>
<text transform="matrix(1.0455,0,0,1.1429,202.955,543.000)" font-size="20.83" fill="#0c0c0c">10</text>
<text transform="matrix(1.0455,0,0,1.1429,369.955,543.000)" font-size="20.83" fill="#0c0c0c">10</text>
<text transform="matrix(1.0455,0,0,1.1429,536.955,543.000)" font-size="20.83" fill="#0c0c0c">10</text>
<text transform="matrix(0.8750,0,0,1.2000,229.000,535.000)" font-size="14.58" fill="#0c0c0c">2</text>
<text transform="matrix(0.8750,0,0,1.2000,396.000,535.000)" font-size="14.58" fill="#0c0c0c">3</text>
<text transform="matrix(1.1250,0,0,1.2000,562.000,535.000)" font-size="14.58" fill="#0c0c0c">4</text>
</g>
<rect x="302" y="56" width="255" height="67" rx="4" ry="4" fill="#fff" fill-opacity="0.8" stroke="#ccc" stroke-opacity="0.8" stroke-width="1.67"/>
<rect x="308" y="70.5" width="46" height="4.17" fill="#1f77b4"/>
<rect x="308" y="101.5" width="46" height="4.17" fill="#ff7f0e" fill-opacity="0.7"/>
<g font-family="Liberation Sans"><text transform="matrix(1.1069,0,0,1.0000,368.893,80.000)" font-size="20.83" fill="#000">Pred. (smoothed)</text><text transform="matrix(1.1087,0,0,1.0000,367.891,111.000)" font-size="20.83" fill="#000">GT (smoothed)</text></g></svg></body></html>
